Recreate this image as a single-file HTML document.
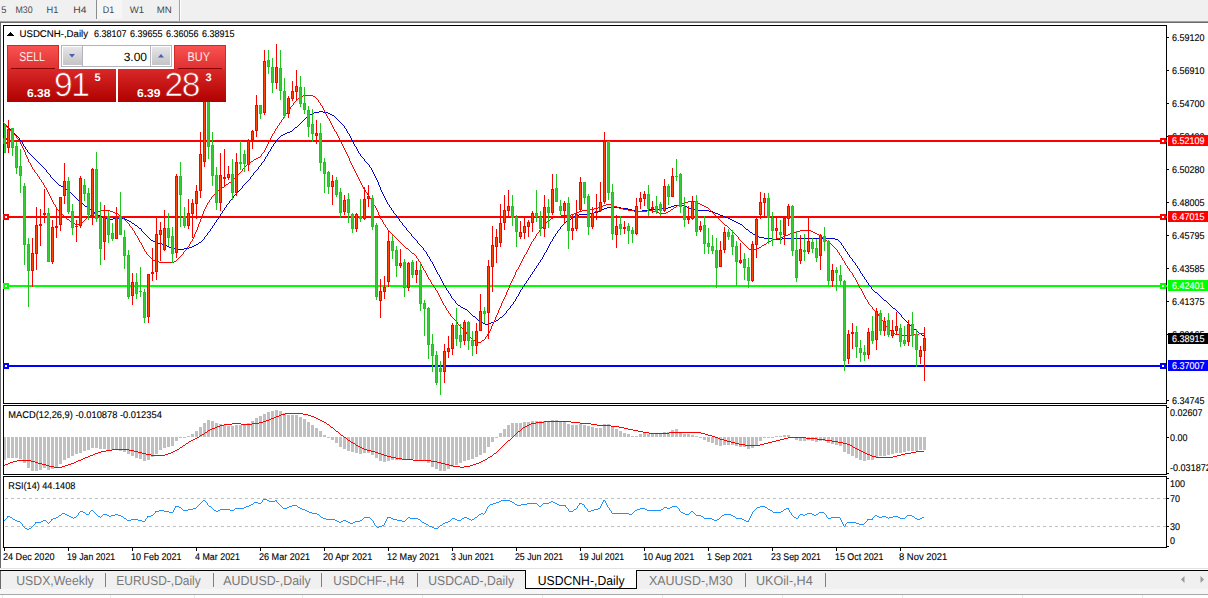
<!DOCTYPE html>
<html><head><meta charset="utf-8"><title>USDCNH-,Daily</title>
<style>html,body{margin:0;padding:0;background:#fff;overflow:hidden}svg text{white-space:pre;text-rendering:geometricPrecision}</style></head>
<body>
<svg width="1208" height="598" viewBox="0 0 1208 598" style="display:block">
<defs>
<linearGradient id="gbtn" x1="0" y1="0" x2="0" y2="1"><stop offset="0" stop-color="#fa5252"/><stop offset="1" stop-color="#de3030"/></linearGradient>
<linearGradient id="gpan" x1="0" y1="0" x2="0" y2="1"><stop offset="0" stop-color="#d82828"/><stop offset="1" stop-color="#b00000"/></linearGradient>
<linearGradient id="gpanu" gradientUnits="userSpaceOnUse" x1="0" y1="69" x2="0" y2="102"><stop offset="0" stop-color="#d82828"/><stop offset="1" stop-color="#b00000"/></linearGradient>
<linearGradient id="gspin" x1="0" y1="0" x2="0" y2="1"><stop offset="0" stop-color="#e6e6e8"/><stop offset="0.5" stop-color="#d4d4d6"/><stop offset="1" stop-color="#c4c4c6"/></linearGradient>
</defs>
<rect width="1208" height="598" fill="#fff"/>
<g shape-rendering="crispEdges">
<rect x="0" y="0" width="1208" height="21" fill="#f0f0f0"/>
<rect x="0" y="21" width="1208" height="1" fill="#a0a0a0"/>
<rect x="0" y="22" width="1208" height="1" fill="#696969"/>
<rect x="0" y="22" width="1" height="546" fill="#696969"/>
<rect x="96" y="0" width="26" height="19" fill="#f6f6f6"/>
<rect x="96" y="0" width="1" height="19" fill="#8c8c8c"/>
<rect x="179" y="0" width="1" height="21" fill="#a0a0a0"/>
<rect x="180" y="0" width="1" height="21" fill="#ffffff"/>
</g>
<text x="1.2" y="13" font-family="Liberation Sans, Arial, sans-serif" font-size="9.6" fill="#484848" textLength="5.2" lengthAdjust="spacingAndGlyphs">5</text>
<text x="15.5" y="13" font-family="Liberation Sans, Arial, sans-serif" font-size="9.6" fill="#484848" textLength="17.2" lengthAdjust="spacingAndGlyphs">M30</text>
<text x="46.5" y="13" font-family="Liberation Sans, Arial, sans-serif" font-size="9.6" fill="#484848" textLength="11.8" lengthAdjust="spacingAndGlyphs">H1</text>
<text x="73.2" y="13" font-family="Liberation Sans, Arial, sans-serif" font-size="9.6" fill="#484848" textLength="13.2" lengthAdjust="spacingAndGlyphs">H4</text>
<text x="102.8" y="13" font-family="Liberation Sans, Arial, sans-serif" font-size="9.6" fill="#484848" textLength="11.4" lengthAdjust="spacingAndGlyphs">D1</text>
<text x="129.8" y="13" font-family="Liberation Sans, Arial, sans-serif" font-size="9.6" fill="#484848" textLength="14.4" lengthAdjust="spacingAndGlyphs">W1</text>
<text x="156.8" y="13" font-family="Liberation Sans, Arial, sans-serif" font-size="9.6" fill="#484848" textLength="15" lengthAdjust="spacingAndGlyphs">MN</text>
<g shape-rendering="crispEdges" fill="#000">
<rect x="3" y="25" width="1164" height="1"/>
<rect x="3" y="25" width="1" height="523"/>
<rect x="1166" y="25" width="1" height="523"/>
<rect x="3" y="403" width="1164" height="1"/>
<rect x="3" y="404" width="1164" height="1" fill="#fff"/>
<rect x="3" y="405" width="1164" height="1"/>
<rect x="3" y="474" width="1164" height="1"/>
<rect x="3" y="475" width="1164" height="1" fill="#fff"/>
<rect x="3" y="476" width="1164" height="1"/>
<rect x="3" y="547" width="1164" height="1"/>
</g>
<rect x="4" y="140" width="1163" height="2" fill="#ff0000" shape-rendering="crispEdges"/>
<rect x="4" y="216" width="1163" height="2" fill="#ff0000" shape-rendering="crispEdges"/>
<rect x="4" y="285" width="1163" height="2" fill="#00ff00" shape-rendering="crispEdges"/>
<rect x="4" y="365" width="1163" height="2" fill="#0000ff" shape-rendering="crispEdges"/>
<g shape-rendering="crispEdges">
<rect x="3" y="138" width="6" height="6" fill="#ff0000"/>
<rect x="5" y="140" width="2" height="2" fill="#fff"/>
<rect x="1160" y="138" width="6" height="6" fill="#ff0000"/>
<rect x="1162" y="140" width="2" height="2" fill="#fff"/>
<rect x="3" y="214" width="6" height="6" fill="#ff0000"/>
<rect x="5" y="216" width="2" height="2" fill="#fff"/>
<rect x="1160" y="214" width="6" height="6" fill="#ff0000"/>
<rect x="1162" y="216" width="2" height="2" fill="#fff"/>
<rect x="3" y="283" width="6" height="6" fill="#00ff00"/>
<rect x="5" y="285" width="2" height="2" fill="#fff"/>
<rect x="1160" y="283" width="6" height="6" fill="#00ff00"/>
<rect x="1162" y="285" width="2" height="2" fill="#fff"/>
<rect x="3" y="363" width="6" height="6" fill="#0000ff"/>
<rect x="5" y="365" width="2" height="2" fill="#fff"/>
<rect x="1160" y="363" width="6" height="6" fill="#0000ff"/>
<rect x="1162" y="365" width="2" height="2" fill="#fff"/>
</g>
<g shape-rendering="crispEdges">
<path d="M3 122h1v1h-1zM4 123h1v1h-1zM5 124h1v1h-1zM6 125h1v1h-1zM7 126h1v1h-1zM8 127h1v1h-1zM9 128h1v1h-1zM10 129h1v1h-1zM11 130h1v1h-1zM12 131h1v1h-1zM13 132h1v1h-1zM14 133h1v1h-1zM15 134h1v1h-1zM16 135h1v1h-1zM17 136h1v1h-1zM18 137h1v1h-1zM19 138h1v2h-1zM20 140h1v1h-1zM21 141h1v1h-1zM22 142h1v2h-1zM23 144h1v2h-1zM24 146h1v1h-1zM25 147h1v2h-1zM26 149h1v1h-1zM27 150h1v2h-1zM28 152h1v1h-1zM29 153h1v1h-1zM30 154h1v1h-1zM31 155h1v1h-1zM32 156h1v1h-1zM33 157h1v1h-1zM34 158h1v1h-1zM35 159h1v1h-1zM36 160h1v1h-1zM37 161h1v1h-1zM38 162h1v1h-1zM39 163h1v1h-1zM40 164h1v1h-1zM41 165h1v1h-1zM42 166h1v1h-1zM43 167h1v1h-1zM44 168h1v1h-1zM45 169h1v1h-1zM46 170h1v2h-1zM47 172h1v1h-1zM48 173h1v1h-1zM49 174h1v1h-1zM50 175h1v2h-1zM51 177h1v1h-1zM52 178h1v1h-1zM53 179h1v1h-1zM54 180h1v1h-1zM55 181h1v1h-1zM56 182h1v1h-1zM57 183h1v1h-1zM58 184h1v1h-1zM59 185h2v1h-2zM61 186h2v1h-2zM63 187h2v1h-2zM65 188h1v1h-1zM66 189h1v1h-1zM67 190h2v1h-2zM69 191h1v1h-1zM70 192h1v1h-1zM71 193h1v1h-1zM72 194h1v1h-1zM73 195h1v1h-1zM74 196h1v1h-1zM75 197h1v1h-1zM76 198h1v1h-1zM77 199h1v1h-1zM78 200h1v1h-1zM79 201h2v1h-2zM81 202h1v1h-1zM82 203h1v1h-1zM83 204h1v1h-1zM84 205h1v1h-1zM85 206h2v1h-2zM87 207h1v1h-1zM88 208h1v1h-1zM89 209h2v1h-2zM91 210h1v1h-1zM92 211h1v1h-1zM93 212h2v1h-2zM95 213h2v1h-2zM97 214h1v1h-1zM98 215h2v1h-2zM100 216h2v1h-2zM102 217h2v1h-2zM104 218h3v1h-3zM107 219h6v1h-6zM113 218h6v1h-6zM119 217h2v1h-2zM121 218h4v1h-4zM125 219h2v1h-2zM127 220h2v1h-2zM129 221h2v1h-2zM131 222h1v1h-1zM132 223h2v1h-2zM134 224h1v1h-1zM135 225h2v1h-2zM137 226h1v1h-1zM138 227h1v1h-1zM139 228h2v1h-2zM141 229h1v2h-1zM142 231h1v1h-1zM143 232h1v1h-1zM144 233h1v1h-1zM145 234h1v1h-1zM146 235h1v1h-1zM147 236h1v1h-1zM148 237h1v1h-1zM149 238h1v1h-1zM150 239h1v1h-1zM151 240h2v1h-2zM153 241h2v1h-2zM155 242h3v1h-3zM158 243h4v1h-4zM162 244h3v1h-3zM165 245h2v1h-2zM167 246h2v1h-2zM169 247h3v1h-3zM172 248h3v1h-3zM175 249h9v1h-9zM184 248h5v1h-5zM189 247h3v1h-3zM192 246h2v1h-2zM194 245h2v1h-2zM196 244h2v1h-2zM198 243h1v1h-1zM199 242h2v1h-2zM201 241h1v1h-1zM202 240h1v1h-1zM203 239h1v1h-1zM204 237h1v2h-1zM205 236h1v1h-1zM206 235h1v1h-1zM207 233h1v2h-1zM208 232h1v1h-1zM209 231h1v1h-1zM210 229h1v2h-1zM211 228h1v1h-1zM212 226h1v2h-1zM213 225h1v1h-1zM214 223h1v2h-1zM215 222h1v1h-1zM216 220h1v2h-1zM217 219h1v1h-1zM218 217h1v2h-1zM219 216h1v1h-1zM220 214h1v2h-1zM221 213h1v1h-1zM222 211h1v2h-1zM223 210h1v1h-1zM224 208h1v2h-1zM225 207h1v1h-1zM226 205h1v2h-1zM227 204h1v1h-1zM228 203h1v1h-1zM229 201h1v2h-1zM230 200h1v1h-1zM231 199h1v1h-1zM232 198h1v1h-1zM233 196h1v2h-1zM234 195h1v1h-1zM235 194h1v1h-1zM236 193h1v1h-1zM237 192h1v1h-1zM238 191h1v1h-1zM239 190h1v1h-1zM240 189h1v1h-1zM241 188h1v1h-1zM242 186h1v2h-1zM243 185h1v1h-1zM244 184h1v1h-1zM245 183h1v1h-1zM246 182h1v1h-1zM247 181h1v1h-1zM248 180h1v1h-1zM249 179h1v1h-1zM250 177h1v2h-1zM251 176h1v1h-1zM252 175h1v1h-1zM253 173h1v2h-1zM254 172h1v1h-1zM255 171h1v1h-1zM256 170h1v1h-1zM257 169h1v1h-1zM258 167h1v2h-1zM259 166h1v1h-1zM260 165h1v1h-1zM261 163h1v2h-1zM262 162h1v1h-1zM263 161h1v1h-1zM264 159h1v2h-1zM265 157h1v2h-1zM266 156h1v1h-1zM267 154h1v2h-1zM268 152h1v2h-1zM269 151h1v1h-1zM270 149h1v2h-1zM271 147h1v2h-1zM272 146h1v1h-1zM273 144h1v2h-1zM274 143h1v1h-1zM275 141h1v2h-1zM276 140h1v1h-1zM277 139h1v1h-1zM278 138h1v1h-1zM279 137h1v1h-1zM280 136h1v1h-1zM281 135h2v1h-2zM283 134h2v1h-2zM285 133h2v1h-2zM287 132h3v1h-3zM290 131h2v1h-2zM292 130h1v1h-1zM293 129h1v1h-1zM294 128h1v1h-1zM295 127h2v1h-2zM297 126h1v1h-1zM298 125h1v1h-1zM299 124h1v1h-1zM300 123h1v1h-1zM301 122h1v1h-1zM302 121h1v1h-1zM303 120h1v1h-1zM304 119h1v1h-1zM305 118h1v1h-1zM306 117h1v1h-1zM307 116h2v1h-2zM309 115h1v1h-1zM310 114h2v1h-2zM312 113h2v1h-2zM314 112h5v1h-5zM319 111h4v1h-4zM323 112h5v1h-5zM328 113h2v1h-2zM330 114h2v1h-2zM332 115h2v1h-2zM334 116h1v1h-1zM335 117h1v1h-1zM336 118h1v1h-1zM337 119h1v1h-1zM338 120h1v1h-1zM339 121h1v1h-1zM340 122h1v1h-1zM341 123h1v1h-1zM342 124h1v1h-1zM343 125h1v1h-1zM344 126h1v2h-1zM345 128h1v1h-1zM346 129h1v2h-1zM347 131h1v2h-1zM348 133h1v1h-1zM349 134h1v2h-1zM350 136h1v2h-1zM351 138h1v2h-1zM352 140h1v2h-1zM353 142h1v2h-1zM354 144h1v2h-1zM355 146h1v1h-1zM356 147h1v2h-1zM357 149h1v2h-1zM358 151h1v2h-1zM359 153h1v1h-1zM360 154h1v2h-1zM361 156h1v1h-1zM362 157h1v1h-1zM363 158h1v1h-1zM364 159h1v2h-1zM365 161h1v1h-1zM366 162h1v1h-1zM367 163h1v1h-1zM368 164h1v1h-1zM369 165h1v2h-1zM370 167h1v1h-1zM371 168h1v2h-1zM372 170h1v2h-1zM373 172h1v2h-1zM374 174h1v2h-1zM375 176h1v2h-1zM376 178h1v2h-1zM377 180h1v2h-1zM378 182h1v3h-1zM379 185h1v2h-1zM380 187h1v3h-1zM381 190h1v2h-1zM382 192h1v2h-1zM383 194h1v2h-1zM384 196h1v2h-1zM385 198h1v2h-1zM386 200h1v2h-1zM387 202h1v2h-1zM388 204h1v1h-1zM389 205h1v2h-1zM390 207h1v1h-1zM391 208h1v2h-1zM392 210h1v1h-1zM393 211h1v2h-1zM394 213h1v1h-1zM395 214h1v1h-1zM396 215h1v2h-1zM397 217h1v1h-1zM398 218h1v1h-1zM399 219h1v2h-1zM400 221h1v1h-1zM401 222h1v1h-1zM402 223h1v2h-1zM403 225h1v1h-1zM404 226h1v1h-1zM405 227h1v1h-1zM406 228h1v2h-1zM407 230h1v1h-1zM408 231h1v1h-1zM409 232h1v1h-1zM410 233h1v1h-1zM411 234h1v2h-1zM412 236h1v1h-1zM413 237h1v1h-1zM414 238h1v1h-1zM415 239h1v1h-1zM416 240h1v1h-1zM417 241h1v2h-1zM418 243h1v1h-1zM419 244h1v1h-1zM420 245h1v1h-1zM421 246h1v1h-1zM422 247h1v1h-1zM423 248h1v2h-1zM424 250h1v1h-1zM425 251h1v1h-1zM426 252h1v2h-1zM427 254h1v2h-1zM428 256h1v1h-1zM429 257h1v2h-1zM430 259h1v2h-1zM431 261h1v1h-1zM432 262h1v2h-1zM433 264h1v2h-1zM434 266h1v2h-1zM435 268h1v2h-1zM436 270h1v2h-1zM437 272h1v2h-1zM438 274h1v1h-1zM439 275h1v2h-1zM440 277h1v2h-1zM441 279h1v2h-1zM442 281h1v2h-1zM443 283h1v2h-1zM444 285h1v1h-1zM445 286h1v2h-1zM446 288h1v2h-1zM447 290h1v1h-1zM448 291h1v2h-1zM449 293h1v1h-1zM450 294h1v2h-1zM451 296h1v2h-1zM452 298h1v1h-1zM453 299h1v1h-1zM454 300h1v1h-1zM455 301h1v2h-1zM456 303h1v1h-1zM457 304h1v1h-1zM458 305h2v1h-2zM460 306h1v1h-1zM461 307h2v1h-2zM463 308h2v1h-2zM465 309h2v1h-2zM467 310h1v1h-1zM468 311h1v1h-1zM469 312h1v1h-1zM470 313h1v1h-1zM471 314h1v1h-1zM472 315h1v1h-1zM473 316h2v1h-2zM475 317h1v1h-1zM476 318h1v1h-1zM477 319h1v1h-1zM478 320h1v1h-1zM479 321h2v1h-2zM481 322h2v1h-2zM483 323h2v1h-2zM485 324h4v1h-4zM489 323h2v1h-2zM491 322h3v1h-3zM494 321h2v1h-2zM496 320h2v1h-2zM498 319h1v1h-1zM499 318h1v1h-1zM500 317h2v1h-2zM502 316h1v1h-1zM503 315h1v1h-1zM504 314h1v1h-1zM505 313h1v1h-1zM506 311h1v2h-1zM507 310h1v1h-1zM508 309h1v1h-1zM509 308h1v1h-1zM510 306h1v2h-1zM511 305h1v1h-1zM512 304h1v1h-1zM513 302h1v2h-1zM514 301h1v1h-1zM515 299h1v2h-1zM516 297h1v2h-1zM517 296h1v1h-1zM518 294h1v2h-1zM519 292h1v2h-1zM520 290h1v2h-1zM521 289h1v1h-1zM522 287h1v2h-1zM523 286h1v1h-1zM524 284h1v2h-1zM525 283h1v1h-1zM526 281h1v2h-1zM527 280h1v1h-1zM528 278h1v2h-1zM529 277h1v1h-1zM530 275h1v2h-1zM531 274h1v1h-1zM532 272h1v2h-1zM533 271h1v1h-1zM534 269h1v2h-1zM535 268h1v1h-1zM536 266h1v2h-1zM537 265h1v1h-1zM538 263h1v2h-1zM539 262h1v1h-1zM540 260h1v2h-1zM541 259h1v1h-1zM542 257h1v2h-1zM543 255h1v2h-1zM544 253h1v2h-1zM545 252h1v1h-1zM546 250h1v2h-1zM547 248h1v2h-1zM548 246h1v2h-1zM549 244h1v2h-1zM550 242h1v2h-1zM551 241h1v1h-1zM552 239h1v2h-1zM553 237h1v2h-1zM554 236h1v1h-1zM555 234h1v2h-1zM556 233h1v1h-1zM557 231h1v2h-1zM558 230h1v1h-1zM559 229h1v1h-1zM560 227h1v2h-1zM561 226h1v1h-1zM562 225h1v1h-1zM563 224h1v1h-1zM564 223h1v1h-1zM565 222h1v1h-1zM566 221h2v1h-2zM568 220h1v1h-1zM569 219h2v1h-2zM571 218h1v1h-1zM572 217h2v1h-2zM574 216h2v1h-2zM576 215h3v1h-3zM579 214h8v1h-8zM587 213h7v1h-7zM594 212h4v1h-4zM598 211h2v1h-2zM600 210h2v1h-2zM602 209h2v1h-2zM604 208h3v1h-3zM607 207h14v1h-14zM621 208h7v1h-7zM628 209h4v1h-4zM632 210h4v1h-4zM636 211h6v1h-6zM642 210h7v1h-7zM649 209h10v1h-10zM659 208h9v1h-9zM668 207h3v1h-3zM671 206h3v1h-3zM674 205h10v1h-10zM684 206h3v1h-3zM687 207h2v1h-2zM689 208h3v1h-3zM692 209h4v1h-4zM696 210h13v1h-13zM709 211h4v1h-4zM713 212h2v1h-2zM715 213h3v1h-3zM718 214h2v1h-2zM720 215h3v1h-3zM723 216h2v1h-2zM725 217h3v1h-3zM728 218h2v1h-2zM730 219h2v1h-2zM732 220h2v1h-2zM734 221h2v1h-2zM736 222h2v1h-2zM738 223h2v1h-2zM740 224h2v1h-2zM742 225h1v1h-1zM743 226h1v1h-1zM744 227h1v1h-1zM745 228h1v1h-1zM746 229h2v1h-2zM748 230h1v1h-1zM749 231h1v1h-1zM750 232h2v1h-2zM752 233h1v1h-1zM753 234h2v1h-2zM755 235h2v1h-2zM757 236h2v1h-2zM759 237h5v1h-5zM764 238h8v1h-8zM772 239h10v1h-10zM782 238h53v1h-53zM835 239h3v1h-3zM838 240h1v1h-1zM839 241h1v1h-1zM840 242h1v1h-1zM841 243h1v2h-1zM842 245h1v1h-1zM843 246h1v2h-1zM844 248h1v1h-1zM845 249h1v2h-1zM846 251h1v1h-1zM847 252h1v2h-1zM848 254h1v1h-1zM849 255h1v2h-1zM850 257h1v1h-1zM851 258h1v1h-1zM852 259h1v2h-1zM853 261h1v1h-1zM854 262h1v1h-1zM855 263h1v2h-1zM856 265h1v1h-1zM857 266h1v2h-1zM858 268h1v1h-1zM859 269h1v2h-1zM860 271h1v2h-1zM861 273h1v1h-1zM862 274h1v2h-1zM863 276h1v1h-1zM864 277h1v2h-1zM865 279h1v1h-1zM866 280h1v2h-1zM867 282h1v1h-1zM868 283h1v2h-1zM869 285h1v1h-1zM870 286h1v1h-1zM871 287h1v2h-1zM872 289h1v1h-1zM873 290h1v1h-1zM874 291h1v1h-1zM875 292h2v1h-2zM877 293h1v1h-1zM878 294h1v1h-1zM879 295h1v1h-1zM880 296h1v1h-1zM881 297h1v1h-1zM882 298h1v1h-1zM883 299h1v1h-1zM884 300h2v1h-2zM886 301h1v1h-1zM887 302h1v1h-1zM888 303h1v1h-1zM889 304h1v1h-1zM890 305h1v1h-1zM891 306h1v1h-1zM892 307h1v1h-1zM893 308h2v1h-2zM895 309h1v1h-1zM896 310h1v1h-1zM897 311h1v1h-1zM898 312h1v1h-1zM899 313h1v1h-1zM900 314h1v1h-1zM901 315h1v2h-1zM902 317h1v1h-1zM903 318h1v1h-1zM904 319h1v1h-1zM905 320h1v1h-1zM906 321h1v1h-1zM907 322h1v1h-1zM908 323h1v1h-1zM909 324h1v1h-1zM910 325h1v1h-1zM911 326h1v1h-1zM912 327h1v1h-1zM913 328h1v1h-1zM914 329h2v1h-2zM916 330h1v1h-1zM917 331h1v1h-1zM918 332h1v1h-1zM919 333h2v1h-2zM921 334h1v1h-1zM922 335h2v1h-2zM924 336h1v1h-1z" fill="#0000d0" shape-rendering="crispEdges"/>
<path d="M3 122h1v1h-1zM4 123h1v1h-1zM5 124h1v1h-1zM6 125h1v2h-1zM7 127h1v1h-1zM8 128h1v1h-1zM9 129h1v1h-1zM10 130h1v1h-1zM11 131h1v1h-1zM12 132h1v1h-1zM13 133h1v1h-1zM14 134h1v1h-1zM15 135h1v1h-1zM16 136h1v2h-1zM17 138h1v1h-1zM18 139h1v2h-1zM19 141h1v1h-1zM20 142h1v2h-1zM21 144h1v2h-1zM22 146h1v2h-1zM23 148h1v2h-1zM24 150h1v2h-1zM25 152h1v3h-1zM26 155h1v2h-1zM27 157h1v2h-1zM28 159h1v3h-1zM29 162h1v1h-1zM30 163h1v2h-1zM31 165h1v2h-1zM32 167h1v2h-1zM33 169h1v1h-1zM34 170h1v2h-1zM35 172h1v1h-1zM36 173h1v1h-1zM37 174h1v2h-1zM38 176h1v1h-1zM39 177h1v2h-1zM40 179h1v1h-1zM41 180h1v2h-1zM42 182h1v1h-1zM43 183h1v2h-1zM44 185h1v2h-1zM45 187h1v1h-1zM46 188h1v2h-1zM47 190h1v2h-1zM48 192h1v2h-1zM49 194h1v2h-1zM50 196h1v2h-1zM51 198h1v2h-1zM52 200h1v2h-1zM53 202h1v2h-1zM54 204h1v1h-1zM55 205h1v2h-1zM56 207h1v2h-1zM57 209h1v1h-1zM58 210h1v1h-1zM59 211h1v1h-1zM60 212h1v1h-1zM61 213h1v1h-1zM62 214h1v1h-1zM63 215h1v1h-1zM64 216h1v1h-1zM65 217h1v1h-1zM66 218h1v1h-1zM67 219h2v1h-2zM69 220h1v1h-1zM70 221h1v1h-1zM71 222h1v1h-1zM72 223h3v1h-3zM75 224h5v1h-5zM80 223h1v1h-1zM81 222h2v1h-2zM83 221h1v1h-1zM84 220h1v1h-1zM85 219h1v1h-1zM86 218h1v1h-1zM87 217h2v1h-2zM89 216h1v1h-1zM90 215h2v1h-2zM92 214h2v1h-2zM94 213h2v1h-2zM96 212h2v1h-2zM98 211h3v1h-3zM101 210h9v1h-9zM110 211h3v1h-3zM113 212h2v1h-2zM115 213h3v1h-3zM118 214h1v1h-1zM119 215h2v1h-2zM121 216h1v1h-1zM122 217h1v1h-1zM123 218h1v1h-1zM124 219h1v1h-1zM125 220h1v1h-1zM126 221h1v1h-1zM127 222h1v1h-1zM128 223h1v1h-1zM129 224h1v2h-1zM130 226h1v1h-1zM131 227h1v1h-1zM132 228h1v2h-1zM133 230h1v1h-1zM134 231h1v2h-1zM135 233h1v2h-1zM136 235h1v1h-1zM137 236h1v2h-1zM138 238h1v2h-1zM139 240h1v2h-1zM140 242h1v1h-1zM141 243h1v2h-1zM142 245h1v2h-1zM143 247h1v2h-1zM144 249h1v2h-1zM145 251h1v1h-1zM146 252h1v2h-1zM147 254h1v1h-1zM148 255h1v1h-1zM149 256h1v1h-1zM150 257h1v1h-1zM151 258h1v1h-1zM152 259h1v1h-1zM153 260h2v1h-2zM155 261h4v1h-4zM159 262h15v1h-15zM174 261h2v1h-2zM176 260h1v1h-1zM177 259h1v1h-1zM178 258h1v1h-1zM179 257h1v1h-1zM180 256h1v1h-1zM181 255h1v1h-1zM182 254h1v1h-1zM183 252h1v2h-1zM184 251h1v1h-1zM185 250h1v1h-1zM186 249h1v1h-1zM187 247h1v2h-1zM188 246h1v1h-1zM189 244h1v2h-1zM190 242h1v2h-1zM191 241h1v1h-1zM192 239h1v2h-1zM193 237h1v2h-1zM194 234h1v3h-1zM195 232h1v2h-1zM196 230h1v2h-1zM197 227h1v3h-1zM198 224h1v3h-1zM199 222h1v2h-1zM200 219h1v3h-1zM201 217h1v2h-1zM202 214h1v3h-1zM203 211h1v3h-1zM204 209h1v2h-1zM205 207h1v2h-1zM206 205h1v2h-1zM207 203h1v2h-1zM208 202h1v1h-1zM209 200h1v2h-1zM210 199h1v1h-1zM211 197h1v2h-1zM212 196h1v1h-1zM213 195h1v1h-1zM214 194h1v1h-1zM215 193h1v1h-1zM216 192h1v1h-1zM217 191h1v1h-1zM218 190h2v1h-2zM220 189h1v1h-1zM221 188h1v1h-1zM222 187h2v1h-2zM224 186h1v1h-1zM225 185h1v1h-1zM226 184h2v1h-2zM228 183h1v1h-1zM229 182h2v1h-2zM231 181h1v1h-1zM232 180h1v1h-1zM233 179h1v1h-1zM234 178h2v1h-2zM236 177h1v1h-1zM237 175h1v2h-1zM238 174h1v1h-1zM239 173h1v1h-1zM240 172h1v1h-1zM241 171h1v1h-1zM242 169h1v2h-1zM243 168h1v1h-1zM244 167h1v1h-1zM245 166h1v1h-1zM246 165h1v1h-1zM247 164h1v1h-1zM248 163h2v1h-2zM250 162h1v1h-1zM251 161h2v1h-2zM253 160h1v1h-1zM254 159h2v1h-2zM256 158h2v1h-2zM258 157h2v1h-2zM260 156h1v1h-1zM261 154h1v2h-1zM262 153h1v1h-1zM263 152h1v1h-1zM264 150h1v2h-1zM265 148h1v2h-1zM266 146h1v2h-1zM267 144h1v2h-1zM268 142h1v2h-1zM269 140h1v2h-1zM270 138h1v2h-1zM271 136h1v2h-1zM272 134h1v2h-1zM273 133h1v1h-1zM274 131h1v2h-1zM275 129h1v2h-1zM276 128h1v1h-1zM277 126h1v2h-1zM278 125h1v1h-1zM279 123h1v2h-1zM280 122h1v1h-1zM281 120h1v2h-1zM282 119h1v1h-1zM283 117h1v2h-1zM284 116h1v1h-1zM285 114h1v2h-1zM286 113h1v1h-1zM287 111h1v2h-1zM288 110h1v1h-1zM289 109h1v1h-1zM290 107h1v2h-1zM291 106h1v1h-1zM292 105h1v1h-1zM293 103h1v2h-1zM294 102h1v1h-1zM295 101h1v1h-1zM296 100h1v1h-1zM297 99h1v1h-1zM298 98h2v1h-2zM300 97h1v1h-1zM301 96h2v1h-2zM303 95h10v1h-10zM313 96h2v1h-2zM315 97h1v1h-1zM316 98h1v1h-1zM317 99h1v1h-1zM318 100h1v2h-1zM319 102h1v1h-1zM320 103h1v2h-1zM321 105h1v1h-1zM322 106h1v2h-1zM323 108h1v2h-1zM324 110h1v2h-1zM325 112h1v2h-1zM326 114h1v2h-1zM327 116h1v2h-1zM328 118h1v1h-1zM329 119h1v2h-1zM330 121h1v2h-1zM331 123h1v2h-1zM332 125h1v2h-1zM333 127h1v2h-1zM334 129h1v2h-1zM335 131h1v1h-1zM336 132h1v2h-1zM337 134h1v2h-1zM338 136h1v2h-1zM339 138h1v2h-1zM340 140h1v2h-1zM341 142h1v2h-1zM342 144h1v2h-1zM343 146h1v2h-1zM344 148h1v2h-1zM345 150h1v2h-1zM346 152h1v2h-1zM347 154h1v2h-1zM348 156h1v2h-1zM349 158h1v3h-1zM350 161h1v2h-1zM351 163h1v2h-1zM352 165h1v2h-1zM353 167h1v2h-1zM354 169h1v2h-1zM355 171h1v2h-1zM356 173h1v2h-1zM357 175h1v2h-1zM358 177h1v2h-1zM359 179h1v2h-1zM360 181h1v2h-1zM361 183h1v2h-1zM362 185h1v2h-1zM363 187h1v2h-1zM364 189h1v1h-1zM365 190h1v2h-1zM366 192h1v1h-1zM367 193h1v2h-1zM368 195h1v1h-1zM369 196h1v2h-1zM370 198h1v1h-1zM371 199h1v2h-1zM372 201h1v2h-1zM373 203h1v2h-1zM374 205h1v1h-1zM375 206h1v2h-1zM376 208h1v2h-1zM377 210h1v2h-1zM378 212h1v3h-1zM379 215h1v2h-1zM380 217h1v2h-1zM381 219h1v1h-1zM382 220h1v2h-1zM383 222h1v2h-1zM384 224h1v1h-1zM385 225h1v2h-1zM386 227h1v1h-1zM387 228h1v2h-1zM388 230h1v1h-1zM389 231h1v1h-1zM390 232h1v1h-1zM391 233h1v1h-1zM392 234h1v1h-1zM393 235h1v1h-1zM394 236h1v1h-1zM395 237h1v1h-1zM396 238h1v1h-1zM397 239h1v1h-1zM398 240h1v1h-1zM399 241h1v1h-1zM400 242h1v1h-1zM401 243h1v1h-1zM402 244h1v1h-1zM403 245h1v1h-1zM404 246h1v1h-1zM405 247h1v1h-1zM406 248h2v1h-2zM408 249h1v1h-1zM409 250h1v1h-1zM410 251h1v1h-1zM411 252h1v1h-1zM412 253h2v1h-2zM414 254h1v1h-1zM415 255h1v1h-1zM416 256h1v2h-1zM417 258h1v1h-1zM418 259h1v2h-1zM419 261h1v1h-1zM420 262h1v2h-1zM421 264h1v2h-1zM422 266h1v2h-1zM423 268h1v2h-1zM424 270h1v1h-1zM425 271h1v2h-1zM426 273h1v2h-1zM427 275h1v2h-1zM428 277h1v2h-1zM429 279h1v1h-1zM430 280h1v2h-1zM431 282h1v2h-1zM432 284h1v1h-1zM433 285h1v2h-1zM434 287h1v1h-1zM435 288h1v2h-1zM436 290h1v1h-1zM437 291h1v2h-1zM438 293h1v2h-1zM439 295h1v2h-1zM440 297h1v2h-1zM441 299h1v2h-1zM442 301h1v2h-1zM443 303h1v2h-1zM444 305h1v1h-1zM445 306h1v2h-1zM446 308h1v2h-1zM447 310h1v1h-1zM448 311h1v2h-1zM449 313h1v1h-1zM450 314h1v2h-1zM451 316h1v1h-1zM452 317h1v1h-1zM453 318h1v1h-1zM454 319h1v1h-1zM455 320h1v1h-1zM456 321h1v1h-1zM457 322h1v2h-1zM458 324h1v1h-1zM459 325h1v1h-1zM460 326h1v1h-1zM461 327h1v1h-1zM462 328h1v1h-1zM463 329h1v1h-1zM464 330h1v1h-1zM465 331h1v1h-1zM466 332h1v2h-1zM467 334h1v1h-1zM468 335h1v1h-1zM469 336h1v1h-1zM470 337h1v1h-1zM471 338h1v1h-1zM472 339h1v1h-1zM473 340h2v1h-2zM475 341h2v1h-2zM477 342h4v1h-4zM481 341h1v1h-1zM482 340h2v1h-2zM484 339h1v1h-1zM485 337h1v2h-1zM486 336h1v1h-1zM487 334h1v2h-1zM488 333h1v1h-1zM489 331h1v2h-1zM490 329h1v2h-1zM491 326h1v3h-1zM492 324h1v2h-1zM493 322h1v2h-1zM494 320h1v2h-1zM495 317h1v3h-1zM496 315h1v2h-1zM497 313h1v2h-1zM498 310h1v3h-1zM499 308h1v2h-1zM500 306h1v2h-1zM501 303h1v3h-1zM502 301h1v2h-1zM503 299h1v2h-1zM504 297h1v2h-1zM505 295h1v2h-1zM506 292h1v3h-1zM507 290h1v2h-1zM508 288h1v2h-1zM509 285h1v3h-1zM510 283h1v2h-1zM511 281h1v2h-1zM512 279h1v2h-1zM513 277h1v2h-1zM514 275h1v2h-1zM515 272h1v3h-1zM516 270h1v2h-1zM517 269h1v1h-1zM518 267h1v2h-1zM519 265h1v2h-1zM520 263h1v2h-1zM521 261h1v2h-1zM522 259h1v2h-1zM523 257h1v2h-1zM524 255h1v2h-1zM525 254h1v1h-1zM526 252h1v2h-1zM527 250h1v2h-1zM528 248h1v2h-1zM529 246h1v2h-1zM530 244h1v2h-1zM531 242h1v2h-1zM532 241h1v1h-1zM533 239h1v2h-1zM534 238h1v1h-1zM535 236h1v2h-1zM536 234h1v2h-1zM537 233h1v1h-1zM538 232h1v1h-1zM539 230h1v2h-1zM540 229h1v1h-1zM541 228h1v1h-1zM542 227h1v1h-1zM543 225h1v2h-1zM544 224h1v1h-1zM545 223h1v1h-1zM546 222h1v1h-1zM547 221h1v1h-1zM548 220h2v1h-2zM550 219h1v1h-1zM551 218h2v1h-2zM553 217h2v1h-2zM555 216h6v1h-6zM561 215h10v1h-10zM571 214h3v1h-3zM574 213h2v1h-2zM576 212h3v1h-3zM579 211h3v1h-3zM582 210h7v1h-7zM589 209h5v1h-5zM594 208h4v1h-4zM598 207h3v1h-3zM601 206h2v1h-2zM603 205h3v1h-3zM606 204h5v1h-5zM611 205h3v1h-3zM614 206h3v1h-3zM617 207h2v1h-2zM619 208h4v1h-4zM623 209h5v1h-5zM628 210h6v1h-6zM634 211h13v1h-13zM647 210h6v1h-6zM653 211h3v1h-3zM656 212h3v1h-3zM659 213h7v1h-7zM666 212h2v1h-2zM668 211h2v1h-2zM670 210h1v1h-1zM671 209h2v1h-2zM673 208h1v1h-1zM674 207h2v1h-2zM676 206h1v1h-1zM677 205h2v1h-2zM679 204h2v1h-2zM681 203h3v1h-3zM684 202h4v1h-4zM688 201h7v1h-7zM695 202h3v1h-3zM698 203h2v1h-2zM700 204h2v1h-2zM702 205h2v1h-2zM704 206h2v1h-2zM706 207h2v1h-2zM708 208h1v1h-1zM709 209h1v1h-1zM710 210h1v1h-1zM711 211h1v1h-1zM712 212h1v1h-1zM713 213h1v1h-1zM714 214h1v1h-1zM715 215h1v1h-1zM716 216h1v1h-1zM717 217h1v1h-1zM718 218h1v1h-1zM719 219h1v1h-1zM720 220h1v1h-1zM721 221h1v1h-1zM722 222h1v1h-1zM723 223h1v1h-1zM724 224h1v1h-1zM725 225h2v1h-2zM727 226h1v1h-1zM728 227h1v1h-1zM729 228h1v1h-1zM730 229h1v1h-1zM731 230h1v1h-1zM732 231h1v1h-1zM733 232h1v1h-1zM734 233h1v1h-1zM735 234h1v1h-1zM736 235h1v1h-1zM737 236h1v1h-1zM738 237h1v2h-1zM739 239h1v1h-1zM740 240h1v1h-1zM741 241h1v1h-1zM742 242h1v1h-1zM743 243h1v1h-1zM744 244h1v1h-1zM745 245h1v1h-1zM746 246h1v1h-1zM747 247h1v1h-1zM748 248h1v1h-1zM749 249h8v1h-8zM757 248h2v1h-2zM759 247h2v1h-2zM761 246h1v1h-1zM762 245h2v1h-2zM764 244h2v1h-2zM766 243h1v1h-1zM767 242h2v1h-2zM769 241h2v1h-2zM771 240h2v1h-2zM773 239h3v1h-3zM776 238h4v1h-4zM780 237h3v1h-3zM783 236h2v1h-2zM785 235h3v1h-3zM788 234h2v1h-2zM790 233h3v1h-3zM793 232h3v1h-3zM796 231h4v1h-4zM800 230h11v1h-11zM811 231h2v1h-2zM813 232h2v1h-2zM815 233h2v1h-2zM817 234h2v1h-2zM819 235h1v1h-1zM820 236h2v1h-2zM822 237h1v1h-1zM823 238h2v1h-2zM825 239h1v1h-1zM826 240h1v1h-1zM827 241h1v1h-1zM828 242h2v1h-2zM830 243h1v1h-1zM831 244h1v1h-1zM832 245h1v1h-1zM833 246h1v1h-1zM834 247h1v1h-1zM835 248h1v1h-1zM836 249h1v1h-1zM837 250h1v2h-1zM838 252h1v1h-1zM839 253h1v2h-1zM840 255h1v1h-1zM841 256h1v2h-1zM842 258h1v2h-1zM843 260h1v1h-1zM844 261h1v2h-1zM845 263h1v2h-1zM846 265h1v1h-1zM847 266h1v2h-1zM848 268h1v1h-1zM849 269h1v2h-1zM850 271h1v1h-1zM851 272h1v1h-1zM852 273h1v2h-1zM853 275h1v2h-1zM854 277h1v1h-1zM855 278h1v2h-1zM856 280h1v2h-1zM857 282h1v2h-1zM858 284h1v2h-1zM859 286h1v2h-1zM860 288h1v1h-1zM861 289h1v2h-1zM862 291h1v2h-1zM863 293h1v2h-1zM864 295h1v2h-1zM865 297h1v2h-1zM866 299h1v1h-1zM867 300h1v2h-1zM868 302h1v2h-1zM869 304h1v1h-1zM870 305h1v1h-1zM871 306h1v1h-1zM872 307h1v2h-1zM873 309h1v1h-1zM874 310h1v1h-1zM875 311h1v1h-1zM876 312h1v1h-1zM877 313h1v1h-1zM878 314h1v2h-1zM879 316h1v1h-1zM880 317h1v1h-1zM881 318h1v2h-1zM882 320h1v1h-1zM883 321h1v2h-1zM884 323h1v1h-1zM885 324h1v2h-1zM886 326h1v1h-1zM887 327h1v1h-1zM888 328h1v1h-1zM889 329h1v1h-1zM890 330h1v1h-1zM891 331h1v1h-1zM892 332h1v1h-1zM893 333h2v1h-2zM895 334h4v1h-4zM899 335h12v1h-12zM911 334h8v1h-8zM919 333h6v1h-6z" fill="#ff0000" shape-rendering="crispEdges"/>
</g>
<g shape-rendering="crispEdges">
<rect x="4" y="123" width="1" height="30" fill="#1ec61e"/>
<rect x="4" y="125" width="2" height="28" fill="#1ec61e"/>
<rect x="4" y="126" width="1" height="26" fill="#32cd32"/>
<rect x="8" y="120" width="1" height="33" fill="#ff0000"/>
<rect x="7" y="129" width="3" height="19" fill="#ff0000"/>
<rect x="8" y="130" width="1" height="17" fill="#ff4500"/>
<rect x="12" y="128" width="1" height="28" fill="#1ec61e"/>
<rect x="11" y="128" width="3" height="20" fill="#1ec61e"/>
<rect x="12" y="129" width="1" height="18" fill="#32cd32"/>
<rect x="16" y="142" width="1" height="32" fill="#1ec61e"/>
<rect x="15" y="146" width="3" height="22" fill="#1ec61e"/>
<rect x="16" y="147" width="1" height="20" fill="#32cd32"/>
<rect x="20" y="149" width="1" height="44" fill="#1ec61e"/>
<rect x="19" y="166" width="3" height="10" fill="#1ec61e"/>
<rect x="20" y="167" width="1" height="8" fill="#32cd32"/>
<rect x="24" y="183" width="1" height="82" fill="#1ec61e"/>
<rect x="23" y="186" width="3" height="59" fill="#1ec61e"/>
<rect x="24" y="187" width="1" height="57" fill="#32cd32"/>
<rect x="28" y="238" width="1" height="69" fill="#1ec61e"/>
<rect x="27" y="244" width="3" height="27" fill="#1ec61e"/>
<rect x="28" y="245" width="1" height="25" fill="#32cd32"/>
<rect x="32" y="238" width="1" height="49" fill="#ff0000"/>
<rect x="31" y="253" width="3" height="18" fill="#ff0000"/>
<rect x="32" y="254" width="1" height="16" fill="#ff4500"/>
<rect x="36" y="207" width="1" height="63" fill="#ff0000"/>
<rect x="35" y="225" width="3" height="29" fill="#ff0000"/>
<rect x="36" y="226" width="1" height="27" fill="#ff4500"/>
<rect x="40" y="209" width="1" height="37" fill="#ff0000"/>
<rect x="39" y="224" width="3" height="2" fill="#ff0000"/>
<rect x="44" y="189" width="1" height="34" fill="#ff0000"/>
<rect x="43" y="213" width="3" height="2" fill="#ff0000"/>
<rect x="48" y="208" width="1" height="54" fill="#1ec61e"/>
<rect x="47" y="213" width="3" height="49" fill="#1ec61e"/>
<rect x="48" y="214" width="1" height="47" fill="#32cd32"/>
<rect x="52" y="220" width="1" height="44" fill="#ff0000"/>
<rect x="51" y="227" width="3" height="35" fill="#ff0000"/>
<rect x="52" y="228" width="1" height="33" fill="#ff4500"/>
<rect x="56" y="209" width="1" height="29" fill="#ff0000"/>
<rect x="55" y="226" width="3" height="2" fill="#ff0000"/>
<rect x="60" y="197" width="1" height="34" fill="#ff0000"/>
<rect x="59" y="197" width="3" height="28" fill="#ff0000"/>
<rect x="60" y="198" width="1" height="26" fill="#ff4500"/>
<rect x="64" y="163" width="1" height="41" fill="#ff0000"/>
<rect x="63" y="181" width="3" height="15" fill="#ff0000"/>
<rect x="64" y="182" width="1" height="13" fill="#ff4500"/>
<rect x="68" y="177" width="1" height="37" fill="#1ec61e"/>
<rect x="67" y="181" width="3" height="31" fill="#1ec61e"/>
<rect x="68" y="182" width="1" height="29" fill="#32cd32"/>
<rect x="72" y="204" width="1" height="31" fill="#1ec61e"/>
<rect x="71" y="211" width="3" height="17" fill="#1ec61e"/>
<rect x="72" y="212" width="1" height="15" fill="#32cd32"/>
<rect x="76" y="220" width="1" height="22" fill="#ff0000"/>
<rect x="75" y="226" width="3" height="1" fill="#ff0000"/>
<rect x="80" y="176" width="1" height="52" fill="#ff0000"/>
<rect x="79" y="178" width="3" height="48" fill="#ff0000"/>
<rect x="80" y="179" width="1" height="46" fill="#ff4500"/>
<rect x="84" y="179" width="1" height="22" fill="#1ec61e"/>
<rect x="83" y="185" width="3" height="9" fill="#1ec61e"/>
<rect x="84" y="186" width="1" height="7" fill="#32cd32"/>
<rect x="88" y="188" width="1" height="32" fill="#1ec61e"/>
<rect x="87" y="193" width="3" height="22" fill="#1ec61e"/>
<rect x="88" y="194" width="1" height="20" fill="#32cd32"/>
<rect x="92" y="168" width="1" height="57" fill="#ff0000"/>
<rect x="91" y="169" width="3" height="47" fill="#ff0000"/>
<rect x="92" y="170" width="1" height="45" fill="#ff4500"/>
<rect x="96" y="152" width="1" height="70" fill="#1ec61e"/>
<rect x="95" y="169" width="3" height="50" fill="#1ec61e"/>
<rect x="96" y="170" width="1" height="48" fill="#32cd32"/>
<rect x="100" y="202" width="1" height="63" fill="#1ec61e"/>
<rect x="99" y="217" width="3" height="32" fill="#1ec61e"/>
<rect x="100" y="218" width="1" height="30" fill="#32cd32"/>
<rect x="104" y="205" width="1" height="55" fill="#ff0000"/>
<rect x="103" y="217" width="3" height="25" fill="#ff0000"/>
<rect x="104" y="218" width="1" height="23" fill="#ff4500"/>
<rect x="108" y="211" width="1" height="32" fill="#1ec61e"/>
<rect x="107" y="216" width="3" height="19" fill="#1ec61e"/>
<rect x="108" y="217" width="1" height="17" fill="#32cd32"/>
<rect x="112" y="223" width="1" height="18" fill="#1ec61e"/>
<rect x="111" y="233" width="3" height="6" fill="#1ec61e"/>
<rect x="112" y="234" width="1" height="4" fill="#32cd32"/>
<rect x="116" y="207" width="1" height="32" fill="#ff0000"/>
<rect x="115" y="217" width="3" height="22" fill="#ff0000"/>
<rect x="116" y="218" width="1" height="20" fill="#ff4500"/>
<rect x="120" y="192" width="1" height="43" fill="#1ec61e"/>
<rect x="119" y="216" width="3" height="19" fill="#1ec61e"/>
<rect x="120" y="217" width="1" height="17" fill="#32cd32"/>
<rect x="124" y="230" width="1" height="39" fill="#1ec61e"/>
<rect x="123" y="237" width="3" height="19" fill="#1ec61e"/>
<rect x="124" y="238" width="1" height="17" fill="#32cd32"/>
<rect x="128" y="250" width="1" height="49" fill="#1ec61e"/>
<rect x="127" y="255" width="3" height="42" fill="#1ec61e"/>
<rect x="128" y="256" width="1" height="40" fill="#32cd32"/>
<rect x="132" y="273" width="1" height="32" fill="#ff0000"/>
<rect x="131" y="282" width="3" height="14" fill="#ff0000"/>
<rect x="132" y="283" width="1" height="12" fill="#ff4500"/>
<rect x="136" y="273" width="1" height="26" fill="#1ec61e"/>
<rect x="135" y="282" width="3" height="12" fill="#1ec61e"/>
<rect x="136" y="283" width="1" height="10" fill="#32cd32"/>
<rect x="140" y="267" width="1" height="30" fill="#1ec61e"/>
<rect x="139" y="291" width="3" height="1" fill="#1ec61e"/>
<rect x="144" y="289" width="1" height="34" fill="#1ec61e"/>
<rect x="143" y="292" width="3" height="26" fill="#1ec61e"/>
<rect x="144" y="293" width="1" height="24" fill="#32cd32"/>
<rect x="148" y="274" width="1" height="49" fill="#ff0000"/>
<rect x="147" y="274" width="3" height="43" fill="#ff0000"/>
<rect x="148" y="275" width="1" height="41" fill="#ff4500"/>
<rect x="152" y="248" width="1" height="33" fill="#ff0000"/>
<rect x="151" y="272" width="3" height="2" fill="#ff0000"/>
<rect x="156" y="217" width="1" height="63" fill="#ff0000"/>
<rect x="155" y="234" width="3" height="38" fill="#ff0000"/>
<rect x="156" y="235" width="1" height="36" fill="#ff4500"/>
<rect x="160" y="222" width="1" height="39" fill="#ff0000"/>
<rect x="159" y="230" width="3" height="5" fill="#ff0000"/>
<rect x="160" y="231" width="1" height="3" fill="#ff4500"/>
<rect x="164" y="210" width="1" height="41" fill="#ff0000"/>
<rect x="163" y="228" width="3" height="22" fill="#ff0000"/>
<rect x="164" y="229" width="1" height="20" fill="#ff4500"/>
<rect x="168" y="213" width="1" height="33" fill="#1ec61e"/>
<rect x="167" y="228" width="3" height="10" fill="#1ec61e"/>
<rect x="168" y="229" width="1" height="8" fill="#32cd32"/>
<rect x="172" y="227" width="1" height="36" fill="#1ec61e"/>
<rect x="171" y="236" width="3" height="18" fill="#1ec61e"/>
<rect x="172" y="237" width="1" height="16" fill="#32cd32"/>
<rect x="176" y="174" width="1" height="84" fill="#ff0000"/>
<rect x="175" y="176" width="3" height="77" fill="#ff0000"/>
<rect x="176" y="177" width="1" height="75" fill="#ff4500"/>
<rect x="180" y="162" width="1" height="65" fill="#1ec61e"/>
<rect x="179" y="176" width="3" height="19" fill="#1ec61e"/>
<rect x="180" y="177" width="1" height="17" fill="#32cd32"/>
<rect x="184" y="207" width="1" height="21" fill="#1ec61e"/>
<rect x="183" y="216" width="3" height="10" fill="#1ec61e"/>
<rect x="184" y="217" width="1" height="8" fill="#32cd32"/>
<rect x="188" y="199" width="1" height="30" fill="#ff0000"/>
<rect x="187" y="213" width="3" height="13" fill="#ff0000"/>
<rect x="188" y="214" width="1" height="11" fill="#ff4500"/>
<rect x="192" y="199" width="1" height="39" fill="#ff0000"/>
<rect x="191" y="203" width="3" height="11" fill="#ff0000"/>
<rect x="192" y="204" width="1" height="9" fill="#ff4500"/>
<rect x="196" y="185" width="1" height="34" fill="#ff0000"/>
<rect x="195" y="191" width="3" height="13" fill="#ff0000"/>
<rect x="196" y="192" width="1" height="11" fill="#ff4500"/>
<rect x="200" y="132" width="1" height="66" fill="#ff0000"/>
<rect x="199" y="154" width="3" height="37" fill="#ff0000"/>
<rect x="200" y="155" width="1" height="35" fill="#ff4500"/>
<rect x="204" y="60" width="1" height="107" fill="#ff0000"/>
<rect x="203" y="65" width="3" height="97" fill="#ff0000"/>
<rect x="204" y="66" width="1" height="95" fill="#ff4500"/>
<rect x="208" y="60" width="1" height="99" fill="#1ec61e"/>
<rect x="207" y="65" width="3" height="82" fill="#1ec61e"/>
<rect x="208" y="66" width="1" height="80" fill="#32cd32"/>
<rect x="212" y="132" width="1" height="54" fill="#1ec61e"/>
<rect x="211" y="145" width="3" height="31" fill="#1ec61e"/>
<rect x="212" y="146" width="1" height="29" fill="#32cd32"/>
<rect x="216" y="167" width="1" height="43" fill="#1ec61e"/>
<rect x="215" y="175" width="3" height="28" fill="#1ec61e"/>
<rect x="216" y="176" width="1" height="26" fill="#32cd32"/>
<rect x="220" y="153" width="1" height="58" fill="#ff0000"/>
<rect x="219" y="175" width="3" height="28" fill="#ff0000"/>
<rect x="220" y="176" width="1" height="26" fill="#ff4500"/>
<rect x="224" y="149" width="1" height="37" fill="#ff0000"/>
<rect x="223" y="177" width="3" height="2" fill="#ff0000"/>
<rect x="228" y="166" width="1" height="14" fill="#ff0000"/>
<rect x="227" y="174" width="3" height="4" fill="#ff0000"/>
<rect x="228" y="175" width="1" height="2" fill="#ff4500"/>
<rect x="232" y="159" width="1" height="41" fill="#1ec61e"/>
<rect x="231" y="174" width="3" height="19" fill="#1ec61e"/>
<rect x="232" y="175" width="1" height="17" fill="#32cd32"/>
<rect x="236" y="153" width="1" height="43" fill="#ff0000"/>
<rect x="235" y="162" width="3" height="31" fill="#ff0000"/>
<rect x="236" y="163" width="1" height="29" fill="#ff4500"/>
<rect x="240" y="141" width="1" height="29" fill="#1ec61e"/>
<rect x="239" y="162" width="3" height="2" fill="#1ec61e"/>
<rect x="244" y="150" width="1" height="22" fill="#1ec61e"/>
<rect x="243" y="154" width="3" height="10" fill="#1ec61e"/>
<rect x="244" y="155" width="1" height="8" fill="#32cd32"/>
<rect x="248" y="139" width="1" height="32" fill="#ff0000"/>
<rect x="247" y="140" width="3" height="25" fill="#ff0000"/>
<rect x="248" y="141" width="1" height="23" fill="#ff4500"/>
<rect x="252" y="130" width="1" height="19" fill="#ff0000"/>
<rect x="251" y="131" width="3" height="9" fill="#ff0000"/>
<rect x="252" y="132" width="1" height="7" fill="#ff4500"/>
<rect x="256" y="95" width="1" height="42" fill="#ff0000"/>
<rect x="255" y="105" width="3" height="26" fill="#ff0000"/>
<rect x="256" y="106" width="1" height="24" fill="#ff4500"/>
<rect x="260" y="105" width="1" height="14" fill="#1ec61e"/>
<rect x="259" y="105" width="3" height="9" fill="#1ec61e"/>
<rect x="260" y="106" width="1" height="7" fill="#32cd32"/>
<rect x="264" y="50" width="1" height="65" fill="#ff0000"/>
<rect x="263" y="61" width="3" height="52" fill="#ff0000"/>
<rect x="264" y="62" width="1" height="50" fill="#ff4500"/>
<rect x="268" y="50" width="1" height="24" fill="#1ec61e"/>
<rect x="267" y="60" width="3" height="7" fill="#1ec61e"/>
<rect x="268" y="61" width="1" height="5" fill="#32cd32"/>
<rect x="272" y="58" width="1" height="35" fill="#1ec61e"/>
<rect x="271" y="67" width="3" height="16" fill="#1ec61e"/>
<rect x="272" y="68" width="1" height="14" fill="#32cd32"/>
<rect x="276" y="44" width="1" height="45" fill="#ff0000"/>
<rect x="275" y="67" width="3" height="16" fill="#ff0000"/>
<rect x="276" y="68" width="1" height="14" fill="#ff4500"/>
<rect x="280" y="50" width="1" height="50" fill="#1ec61e"/>
<rect x="279" y="68" width="3" height="23" fill="#1ec61e"/>
<rect x="280" y="69" width="1" height="21" fill="#32cd32"/>
<rect x="284" y="78" width="1" height="40" fill="#1ec61e"/>
<rect x="283" y="91" width="3" height="25" fill="#1ec61e"/>
<rect x="284" y="92" width="1" height="23" fill="#32cd32"/>
<rect x="288" y="96" width="1" height="22" fill="#ff0000"/>
<rect x="287" y="98" width="3" height="16" fill="#ff0000"/>
<rect x="288" y="99" width="1" height="14" fill="#ff4500"/>
<rect x="292" y="81" width="1" height="20" fill="#ff0000"/>
<rect x="291" y="91" width="3" height="8" fill="#ff0000"/>
<rect x="292" y="92" width="1" height="6" fill="#ff4500"/>
<rect x="296" y="70" width="1" height="30" fill="#ff0000"/>
<rect x="295" y="86" width="3" height="6" fill="#ff0000"/>
<rect x="296" y="87" width="1" height="4" fill="#ff4500"/>
<rect x="300" y="76" width="1" height="31" fill="#1ec61e"/>
<rect x="299" y="87" width="3" height="17" fill="#1ec61e"/>
<rect x="300" y="88" width="1" height="15" fill="#32cd32"/>
<rect x="304" y="87" width="1" height="27" fill="#1ec61e"/>
<rect x="303" y="103" width="3" height="7" fill="#1ec61e"/>
<rect x="304" y="104" width="1" height="5" fill="#32cd32"/>
<rect x="308" y="106" width="1" height="31" fill="#1ec61e"/>
<rect x="307" y="110" width="3" height="17" fill="#1ec61e"/>
<rect x="308" y="111" width="1" height="15" fill="#32cd32"/>
<rect x="312" y="109" width="1" height="33" fill="#1ec61e"/>
<rect x="311" y="124" width="3" height="10" fill="#1ec61e"/>
<rect x="312" y="125" width="1" height="8" fill="#32cd32"/>
<rect x="316" y="120" width="1" height="24" fill="#ff0000"/>
<rect x="315" y="133" width="3" height="3" fill="#ff0000"/>
<rect x="316" y="134" width="1" height="1" fill="#ff4500"/>
<rect x="320" y="123" width="1" height="48" fill="#1ec61e"/>
<rect x="319" y="133" width="3" height="30" fill="#1ec61e"/>
<rect x="320" y="134" width="1" height="28" fill="#32cd32"/>
<rect x="324" y="158" width="1" height="35" fill="#1ec61e"/>
<rect x="323" y="162" width="3" height="12" fill="#1ec61e"/>
<rect x="324" y="163" width="1" height="10" fill="#32cd32"/>
<rect x="328" y="171" width="1" height="23" fill="#1ec61e"/>
<rect x="327" y="172" width="3" height="15" fill="#1ec61e"/>
<rect x="328" y="173" width="1" height="13" fill="#32cd32"/>
<rect x="332" y="175" width="1" height="30" fill="#ff0000"/>
<rect x="331" y="181" width="3" height="6" fill="#ff0000"/>
<rect x="332" y="182" width="1" height="4" fill="#ff4500"/>
<rect x="336" y="177" width="1" height="20" fill="#1ec61e"/>
<rect x="335" y="180" width="3" height="15" fill="#1ec61e"/>
<rect x="336" y="181" width="1" height="13" fill="#32cd32"/>
<rect x="340" y="188" width="1" height="30" fill="#1ec61e"/>
<rect x="339" y="192" width="3" height="21" fill="#1ec61e"/>
<rect x="340" y="193" width="1" height="19" fill="#32cd32"/>
<rect x="344" y="195" width="1" height="20" fill="#ff0000"/>
<rect x="343" y="200" width="3" height="12" fill="#ff0000"/>
<rect x="344" y="201" width="1" height="10" fill="#ff4500"/>
<rect x="348" y="193" width="1" height="30" fill="#1ec61e"/>
<rect x="347" y="199" width="3" height="14" fill="#1ec61e"/>
<rect x="348" y="200" width="1" height="12" fill="#32cd32"/>
<rect x="352" y="213" width="1" height="20" fill="#1ec61e"/>
<rect x="351" y="214" width="3" height="15" fill="#1ec61e"/>
<rect x="352" y="215" width="1" height="13" fill="#32cd32"/>
<rect x="356" y="213" width="1" height="19" fill="#ff0000"/>
<rect x="355" y="214" width="3" height="15" fill="#ff0000"/>
<rect x="356" y="215" width="1" height="13" fill="#ff4500"/>
<rect x="360" y="199" width="1" height="23" fill="#1ec61e"/>
<rect x="359" y="216" width="3" height="3" fill="#1ec61e"/>
<rect x="360" y="217" width="1" height="1" fill="#32cd32"/>
<rect x="364" y="187" width="1" height="33" fill="#ff0000"/>
<rect x="363" y="199" width="3" height="20" fill="#ff0000"/>
<rect x="364" y="200" width="1" height="18" fill="#ff4500"/>
<rect x="368" y="185" width="1" height="22" fill="#ff0000"/>
<rect x="367" y="196" width="3" height="3" fill="#ff0000"/>
<rect x="368" y="197" width="1" height="1" fill="#ff4500"/>
<rect x="372" y="195" width="1" height="35" fill="#1ec61e"/>
<rect x="371" y="198" width="3" height="29" fill="#1ec61e"/>
<rect x="372" y="199" width="1" height="27" fill="#32cd32"/>
<rect x="376" y="223" width="1" height="77" fill="#1ec61e"/>
<rect x="375" y="225" width="3" height="72" fill="#1ec61e"/>
<rect x="376" y="226" width="1" height="70" fill="#32cd32"/>
<rect x="380" y="279" width="1" height="39" fill="#ff0000"/>
<rect x="379" y="291" width="3" height="10" fill="#ff0000"/>
<rect x="380" y="292" width="1" height="8" fill="#ff4500"/>
<rect x="384" y="276" width="1" height="23" fill="#ff0000"/>
<rect x="383" y="287" width="3" height="5" fill="#ff0000"/>
<rect x="384" y="288" width="1" height="3" fill="#ff4500"/>
<rect x="388" y="231" width="1" height="56" fill="#ff0000"/>
<rect x="387" y="241" width="3" height="41" fill="#ff0000"/>
<rect x="388" y="242" width="1" height="39" fill="#ff4500"/>
<rect x="392" y="235" width="1" height="24" fill="#1ec61e"/>
<rect x="391" y="241" width="3" height="10" fill="#1ec61e"/>
<rect x="392" y="242" width="1" height="8" fill="#32cd32"/>
<rect x="396" y="246" width="1" height="31" fill="#1ec61e"/>
<rect x="395" y="250" width="3" height="16" fill="#1ec61e"/>
<rect x="396" y="251" width="1" height="14" fill="#32cd32"/>
<rect x="400" y="249" width="1" height="19" fill="#ff0000"/>
<rect x="399" y="263" width="3" height="3" fill="#ff0000"/>
<rect x="400" y="264" width="1" height="1" fill="#ff4500"/>
<rect x="404" y="259" width="1" height="38" fill="#1ec61e"/>
<rect x="403" y="262" width="3" height="26" fill="#1ec61e"/>
<rect x="404" y="263" width="1" height="24" fill="#32cd32"/>
<rect x="408" y="262" width="1" height="29" fill="#ff0000"/>
<rect x="407" y="263" width="3" height="25" fill="#ff0000"/>
<rect x="408" y="264" width="1" height="23" fill="#ff4500"/>
<rect x="412" y="260" width="1" height="18" fill="#1ec61e"/>
<rect x="411" y="262" width="3" height="13" fill="#1ec61e"/>
<rect x="412" y="263" width="1" height="11" fill="#32cd32"/>
<rect x="416" y="261" width="1" height="22" fill="#ff0000"/>
<rect x="415" y="270" width="3" height="5" fill="#ff0000"/>
<rect x="416" y="271" width="1" height="3" fill="#ff4500"/>
<rect x="420" y="263" width="1" height="48" fill="#1ec61e"/>
<rect x="419" y="270" width="3" height="34" fill="#1ec61e"/>
<rect x="420" y="271" width="1" height="32" fill="#32cd32"/>
<rect x="424" y="300" width="1" height="36" fill="#1ec61e"/>
<rect x="423" y="303" width="3" height="6" fill="#1ec61e"/>
<rect x="424" y="304" width="1" height="4" fill="#32cd32"/>
<rect x="428" y="307" width="1" height="52" fill="#1ec61e"/>
<rect x="427" y="308" width="3" height="37" fill="#1ec61e"/>
<rect x="428" y="309" width="1" height="35" fill="#32cd32"/>
<rect x="432" y="334" width="1" height="38" fill="#1ec61e"/>
<rect x="431" y="344" width="3" height="12" fill="#1ec61e"/>
<rect x="432" y="345" width="1" height="10" fill="#32cd32"/>
<rect x="436" y="351" width="1" height="34" fill="#1ec61e"/>
<rect x="435" y="355" width="3" height="28" fill="#1ec61e"/>
<rect x="436" y="356" width="1" height="26" fill="#32cd32"/>
<rect x="440" y="361" width="1" height="34" fill="#1ec61e"/>
<rect x="439" y="368" width="3" height="4" fill="#1ec61e"/>
<rect x="440" y="369" width="1" height="2" fill="#32cd32"/>
<rect x="444" y="344" width="1" height="39" fill="#ff0000"/>
<rect x="443" y="351" width="3" height="21" fill="#ff0000"/>
<rect x="444" y="352" width="1" height="19" fill="#ff4500"/>
<rect x="448" y="336" width="1" height="22" fill="#ff0000"/>
<rect x="447" y="348" width="3" height="4" fill="#ff0000"/>
<rect x="448" y="349" width="1" height="2" fill="#ff4500"/>
<rect x="452" y="323" width="1" height="32" fill="#ff0000"/>
<rect x="451" y="325" width="3" height="24" fill="#ff0000"/>
<rect x="452" y="326" width="1" height="22" fill="#ff4500"/>
<rect x="456" y="308" width="1" height="38" fill="#1ec61e"/>
<rect x="455" y="325" width="3" height="14" fill="#1ec61e"/>
<rect x="456" y="326" width="1" height="12" fill="#32cd32"/>
<rect x="460" y="324" width="1" height="24" fill="#1ec61e"/>
<rect x="459" y="335" width="3" height="7" fill="#1ec61e"/>
<rect x="460" y="336" width="1" height="5" fill="#32cd32"/>
<rect x="464" y="320" width="1" height="25" fill="#ff0000"/>
<rect x="463" y="322" width="3" height="19" fill="#ff0000"/>
<rect x="464" y="323" width="1" height="17" fill="#ff4500"/>
<rect x="468" y="321" width="1" height="29" fill="#1ec61e"/>
<rect x="467" y="322" width="3" height="19" fill="#1ec61e"/>
<rect x="468" y="323" width="1" height="17" fill="#32cd32"/>
<rect x="472" y="331" width="1" height="25" fill="#1ec61e"/>
<rect x="471" y="340" width="3" height="6" fill="#1ec61e"/>
<rect x="472" y="341" width="1" height="4" fill="#32cd32"/>
<rect x="476" y="323" width="1" height="31" fill="#ff0000"/>
<rect x="475" y="331" width="3" height="15" fill="#ff0000"/>
<rect x="476" y="332" width="1" height="13" fill="#ff4500"/>
<rect x="480" y="294" width="1" height="37" fill="#ff0000"/>
<rect x="479" y="311" width="3" height="20" fill="#ff0000"/>
<rect x="480" y="312" width="1" height="18" fill="#ff4500"/>
<rect x="484" y="307" width="1" height="16" fill="#1ec61e"/>
<rect x="483" y="311" width="3" height="3" fill="#1ec61e"/>
<rect x="484" y="312" width="1" height="1" fill="#32cd32"/>
<rect x="488" y="260" width="1" height="79" fill="#ff0000"/>
<rect x="487" y="266" width="3" height="47" fill="#ff0000"/>
<rect x="488" y="267" width="1" height="45" fill="#ff4500"/>
<rect x="492" y="226" width="1" height="66" fill="#ff0000"/>
<rect x="491" y="245" width="3" height="22" fill="#ff0000"/>
<rect x="492" y="246" width="1" height="20" fill="#ff4500"/>
<rect x="496" y="229" width="1" height="34" fill="#ff0000"/>
<rect x="495" y="237" width="3" height="10" fill="#ff0000"/>
<rect x="496" y="238" width="1" height="8" fill="#ff4500"/>
<rect x="500" y="204" width="1" height="43" fill="#ff0000"/>
<rect x="499" y="223" width="3" height="20" fill="#ff0000"/>
<rect x="500" y="224" width="1" height="18" fill="#ff4500"/>
<rect x="504" y="195" width="1" height="35" fill="#ff0000"/>
<rect x="503" y="210" width="3" height="13" fill="#ff0000"/>
<rect x="504" y="211" width="1" height="11" fill="#ff4500"/>
<rect x="508" y="190" width="1" height="28" fill="#ff0000"/>
<rect x="507" y="206" width="3" height="5" fill="#ff0000"/>
<rect x="508" y="207" width="1" height="3" fill="#ff4500"/>
<rect x="512" y="195" width="1" height="31" fill="#1ec61e"/>
<rect x="511" y="206" width="3" height="12" fill="#1ec61e"/>
<rect x="512" y="207" width="1" height="10" fill="#32cd32"/>
<rect x="516" y="215" width="1" height="32" fill="#1ec61e"/>
<rect x="515" y="217" width="3" height="15" fill="#1ec61e"/>
<rect x="516" y="218" width="1" height="13" fill="#32cd32"/>
<rect x="520" y="221" width="1" height="18" fill="#ff0000"/>
<rect x="519" y="232" width="3" height="5" fill="#ff0000"/>
<rect x="520" y="233" width="1" height="3" fill="#ff4500"/>
<rect x="524" y="217" width="1" height="22" fill="#ff0000"/>
<rect x="523" y="226" width="3" height="7" fill="#ff0000"/>
<rect x="524" y="227" width="1" height="5" fill="#ff4500"/>
<rect x="528" y="220" width="1" height="17" fill="#ff0000"/>
<rect x="527" y="222" width="3" height="5" fill="#ff0000"/>
<rect x="528" y="223" width="1" height="3" fill="#ff4500"/>
<rect x="532" y="211" width="1" height="21" fill="#ff0000"/>
<rect x="531" y="213" width="3" height="10" fill="#ff0000"/>
<rect x="532" y="214" width="1" height="8" fill="#ff4500"/>
<rect x="536" y="190" width="1" height="32" fill="#1ec61e"/>
<rect x="535" y="213" width="3" height="4" fill="#1ec61e"/>
<rect x="536" y="214" width="1" height="2" fill="#32cd32"/>
<rect x="540" y="211" width="1" height="25" fill="#1ec61e"/>
<rect x="539" y="217" width="3" height="12" fill="#1ec61e"/>
<rect x="540" y="218" width="1" height="10" fill="#32cd32"/>
<rect x="544" y="195" width="1" height="42" fill="#ff0000"/>
<rect x="543" y="207" width="3" height="22" fill="#ff0000"/>
<rect x="544" y="208" width="1" height="20" fill="#ff4500"/>
<rect x="548" y="199" width="1" height="29" fill="#1ec61e"/>
<rect x="547" y="207" width="3" height="6" fill="#1ec61e"/>
<rect x="548" y="208" width="1" height="4" fill="#32cd32"/>
<rect x="552" y="174" width="1" height="41" fill="#ff0000"/>
<rect x="551" y="189" width="3" height="24" fill="#ff0000"/>
<rect x="552" y="190" width="1" height="22" fill="#ff4500"/>
<rect x="556" y="174" width="1" height="28" fill="#1ec61e"/>
<rect x="555" y="188" width="3" height="14" fill="#1ec61e"/>
<rect x="556" y="189" width="1" height="12" fill="#32cd32"/>
<rect x="560" y="200" width="1" height="15" fill="#1ec61e"/>
<rect x="559" y="206" width="3" height="5" fill="#1ec61e"/>
<rect x="560" y="207" width="1" height="3" fill="#32cd32"/>
<rect x="564" y="201" width="1" height="23" fill="#ff0000"/>
<rect x="563" y="203" width="3" height="8" fill="#ff0000"/>
<rect x="564" y="204" width="1" height="6" fill="#ff4500"/>
<rect x="568" y="197" width="1" height="52" fill="#1ec61e"/>
<rect x="567" y="203" width="3" height="28" fill="#1ec61e"/>
<rect x="568" y="204" width="1" height="26" fill="#32cd32"/>
<rect x="572" y="214" width="1" height="26" fill="#ff0000"/>
<rect x="571" y="228" width="3" height="3" fill="#ff0000"/>
<rect x="572" y="229" width="1" height="1" fill="#ff4500"/>
<rect x="576" y="200" width="1" height="31" fill="#ff0000"/>
<rect x="575" y="214" width="3" height="15" fill="#ff0000"/>
<rect x="576" y="215" width="1" height="13" fill="#ff4500"/>
<rect x="580" y="177" width="1" height="34" fill="#ff0000"/>
<rect x="579" y="182" width="3" height="28" fill="#ff0000"/>
<rect x="580" y="183" width="1" height="26" fill="#ff4500"/>
<rect x="584" y="182" width="1" height="22" fill="#1ec61e"/>
<rect x="583" y="182" width="3" height="16" fill="#1ec61e"/>
<rect x="584" y="183" width="1" height="14" fill="#32cd32"/>
<rect x="588" y="194" width="1" height="41" fill="#1ec61e"/>
<rect x="587" y="196" width="3" height="31" fill="#1ec61e"/>
<rect x="588" y="197" width="1" height="29" fill="#32cd32"/>
<rect x="592" y="207" width="1" height="22" fill="#ff0000"/>
<rect x="591" y="213" width="3" height="14" fill="#ff0000"/>
<rect x="592" y="214" width="1" height="12" fill="#ff4500"/>
<rect x="596" y="194" width="1" height="26" fill="#ff0000"/>
<rect x="595" y="211" width="3" height="1" fill="#ff0000"/>
<rect x="600" y="182" width="1" height="30" fill="#ff0000"/>
<rect x="599" y="202" width="3" height="9" fill="#ff0000"/>
<rect x="600" y="203" width="1" height="7" fill="#ff4500"/>
<rect x="604" y="132" width="1" height="72" fill="#ff0000"/>
<rect x="603" y="141" width="3" height="61" fill="#ff0000"/>
<rect x="604" y="142" width="1" height="59" fill="#ff4500"/>
<rect x="608" y="141" width="1" height="59" fill="#1ec61e"/>
<rect x="607" y="141" width="3" height="52" fill="#1ec61e"/>
<rect x="608" y="142" width="1" height="50" fill="#32cd32"/>
<rect x="612" y="184" width="1" height="56" fill="#1ec61e"/>
<rect x="611" y="192" width="3" height="42" fill="#1ec61e"/>
<rect x="612" y="193" width="1" height="40" fill="#32cd32"/>
<rect x="616" y="215" width="1" height="33" fill="#ff0000"/>
<rect x="615" y="226" width="3" height="9" fill="#ff0000"/>
<rect x="616" y="227" width="1" height="7" fill="#ff4500"/>
<rect x="620" y="216" width="1" height="19" fill="#1ec61e"/>
<rect x="619" y="224" width="3" height="5" fill="#1ec61e"/>
<rect x="620" y="225" width="1" height="3" fill="#32cd32"/>
<rect x="624" y="221" width="1" height="13" fill="#ff0000"/>
<rect x="623" y="227" width="3" height="2" fill="#ff0000"/>
<rect x="628" y="223" width="1" height="21" fill="#1ec61e"/>
<rect x="627" y="226" width="3" height="5" fill="#1ec61e"/>
<rect x="628" y="227" width="1" height="3" fill="#32cd32"/>
<rect x="632" y="227" width="1" height="16" fill="#1ec61e"/>
<rect x="631" y="230" width="3" height="4" fill="#1ec61e"/>
<rect x="632" y="231" width="1" height="2" fill="#32cd32"/>
<rect x="636" y="198" width="1" height="37" fill="#ff0000"/>
<rect x="635" y="206" width="3" height="28" fill="#ff0000"/>
<rect x="636" y="207" width="1" height="26" fill="#ff4500"/>
<rect x="640" y="192" width="1" height="17" fill="#ff0000"/>
<rect x="639" y="198" width="3" height="4" fill="#ff0000"/>
<rect x="640" y="199" width="1" height="2" fill="#ff4500"/>
<rect x="644" y="191" width="1" height="15" fill="#ff0000"/>
<rect x="643" y="194" width="3" height="5" fill="#ff0000"/>
<rect x="644" y="195" width="1" height="3" fill="#ff4500"/>
<rect x="648" y="185" width="1" height="31" fill="#1ec61e"/>
<rect x="647" y="194" width="3" height="15" fill="#1ec61e"/>
<rect x="648" y="195" width="1" height="13" fill="#32cd32"/>
<rect x="652" y="201" width="1" height="12" fill="#ff0000"/>
<rect x="651" y="207" width="3" height="2" fill="#ff0000"/>
<rect x="656" y="196" width="1" height="18" fill="#1ec61e"/>
<rect x="655" y="206" width="3" height="6" fill="#1ec61e"/>
<rect x="656" y="207" width="1" height="4" fill="#32cd32"/>
<rect x="660" y="202" width="1" height="14" fill="#1ec61e"/>
<rect x="659" y="204" width="3" height="7" fill="#1ec61e"/>
<rect x="660" y="205" width="1" height="5" fill="#32cd32"/>
<rect x="664" y="179" width="1" height="33" fill="#ff0000"/>
<rect x="663" y="186" width="3" height="25" fill="#ff0000"/>
<rect x="664" y="187" width="1" height="23" fill="#ff4500"/>
<rect x="668" y="184" width="1" height="21" fill="#1ec61e"/>
<rect x="667" y="186" width="3" height="11" fill="#1ec61e"/>
<rect x="668" y="187" width="1" height="9" fill="#32cd32"/>
<rect x="672" y="168" width="1" height="29" fill="#ff0000"/>
<rect x="671" y="176" width="3" height="21" fill="#ff0000"/>
<rect x="672" y="177" width="1" height="19" fill="#ff4500"/>
<rect x="676" y="159" width="1" height="22" fill="#1ec61e"/>
<rect x="675" y="176" width="3" height="1" fill="#1ec61e"/>
<rect x="680" y="173" width="1" height="40" fill="#1ec61e"/>
<rect x="679" y="174" width="3" height="33" fill="#1ec61e"/>
<rect x="680" y="175" width="1" height="31" fill="#32cd32"/>
<rect x="684" y="197" width="1" height="30" fill="#1ec61e"/>
<rect x="683" y="207" width="3" height="13" fill="#1ec61e"/>
<rect x="684" y="208" width="1" height="11" fill="#32cd32"/>
<rect x="688" y="206" width="1" height="18" fill="#ff0000"/>
<rect x="687" y="218" width="3" height="2" fill="#ff0000"/>
<rect x="692" y="196" width="1" height="24" fill="#ff0000"/>
<rect x="691" y="201" width="3" height="18" fill="#ff0000"/>
<rect x="692" y="202" width="1" height="16" fill="#ff4500"/>
<rect x="696" y="195" width="1" height="41" fill="#1ec61e"/>
<rect x="695" y="201" width="3" height="31" fill="#1ec61e"/>
<rect x="696" y="202" width="1" height="29" fill="#32cd32"/>
<rect x="700" y="221" width="1" height="11" fill="#ff0000"/>
<rect x="699" y="226" width="3" height="4" fill="#ff0000"/>
<rect x="700" y="227" width="1" height="2" fill="#ff4500"/>
<rect x="704" y="216" width="1" height="38" fill="#1ec61e"/>
<rect x="703" y="225" width="3" height="19" fill="#1ec61e"/>
<rect x="704" y="226" width="1" height="17" fill="#32cd32"/>
<rect x="708" y="228" width="1" height="26" fill="#1ec61e"/>
<rect x="707" y="243" width="3" height="4" fill="#1ec61e"/>
<rect x="708" y="244" width="1" height="2" fill="#32cd32"/>
<rect x="712" y="235" width="1" height="19" fill="#1ec61e"/>
<rect x="711" y="246" width="3" height="5" fill="#1ec61e"/>
<rect x="712" y="247" width="1" height="3" fill="#32cd32"/>
<rect x="716" y="238" width="1" height="50" fill="#1ec61e"/>
<rect x="715" y="250" width="3" height="18" fill="#1ec61e"/>
<rect x="716" y="251" width="1" height="16" fill="#32cd32"/>
<rect x="720" y="241" width="1" height="26" fill="#ff0000"/>
<rect x="719" y="250" width="3" height="17" fill="#ff0000"/>
<rect x="720" y="251" width="1" height="15" fill="#ff4500"/>
<rect x="724" y="227" width="1" height="26" fill="#ff0000"/>
<rect x="723" y="232" width="3" height="18" fill="#ff0000"/>
<rect x="724" y="233" width="1" height="16" fill="#ff4500"/>
<rect x="728" y="229" width="1" height="11" fill="#1ec61e"/>
<rect x="727" y="232" width="3" height="5" fill="#1ec61e"/>
<rect x="728" y="233" width="1" height="3" fill="#32cd32"/>
<rect x="732" y="230" width="1" height="25" fill="#1ec61e"/>
<rect x="731" y="235" width="3" height="12" fill="#1ec61e"/>
<rect x="732" y="236" width="1" height="10" fill="#32cd32"/>
<rect x="736" y="241" width="1" height="45" fill="#1ec61e"/>
<rect x="735" y="246" width="3" height="16" fill="#1ec61e"/>
<rect x="736" y="247" width="1" height="14" fill="#32cd32"/>
<rect x="740" y="243" width="1" height="21" fill="#ff0000"/>
<rect x="739" y="260" width="3" height="3" fill="#ff0000"/>
<rect x="740" y="261" width="1" height="1" fill="#ff4500"/>
<rect x="744" y="253" width="1" height="27" fill="#1ec61e"/>
<rect x="743" y="259" width="3" height="9" fill="#1ec61e"/>
<rect x="744" y="260" width="1" height="7" fill="#32cd32"/>
<rect x="748" y="258" width="1" height="30" fill="#1ec61e"/>
<rect x="747" y="267" width="3" height="14" fill="#1ec61e"/>
<rect x="748" y="268" width="1" height="12" fill="#32cd32"/>
<rect x="752" y="241" width="1" height="41" fill="#ff0000"/>
<rect x="751" y="244" width="3" height="37" fill="#ff0000"/>
<rect x="752" y="245" width="1" height="35" fill="#ff4500"/>
<rect x="756" y="218" width="1" height="40" fill="#ff0000"/>
<rect x="755" y="219" width="3" height="26" fill="#ff0000"/>
<rect x="756" y="220" width="1" height="24" fill="#ff4500"/>
<rect x="760" y="192" width="1" height="27" fill="#ff0000"/>
<rect x="759" y="202" width="3" height="13" fill="#ff0000"/>
<rect x="760" y="203" width="1" height="11" fill="#ff4500"/>
<rect x="764" y="193" width="1" height="24" fill="#ff0000"/>
<rect x="763" y="198" width="3" height="5" fill="#ff0000"/>
<rect x="764" y="199" width="1" height="3" fill="#ff4500"/>
<rect x="768" y="193" width="1" height="51" fill="#1ec61e"/>
<rect x="767" y="198" width="3" height="20" fill="#1ec61e"/>
<rect x="768" y="199" width="1" height="18" fill="#32cd32"/>
<rect x="772" y="212" width="1" height="34" fill="#1ec61e"/>
<rect x="771" y="218" width="3" height="13" fill="#1ec61e"/>
<rect x="772" y="219" width="1" height="11" fill="#32cd32"/>
<rect x="776" y="216" width="1" height="22" fill="#ff0000"/>
<rect x="775" y="228" width="3" height="3" fill="#ff0000"/>
<rect x="776" y="229" width="1" height="1" fill="#ff4500"/>
<rect x="780" y="220" width="1" height="24" fill="#1ec61e"/>
<rect x="779" y="232" width="3" height="3" fill="#1ec61e"/>
<rect x="780" y="233" width="1" height="1" fill="#32cd32"/>
<rect x="784" y="217" width="1" height="28" fill="#ff0000"/>
<rect x="783" y="218" width="3" height="17" fill="#ff0000"/>
<rect x="784" y="219" width="1" height="15" fill="#ff4500"/>
<rect x="788" y="204" width="1" height="22" fill="#ff0000"/>
<rect x="787" y="206" width="3" height="13" fill="#ff0000"/>
<rect x="788" y="207" width="1" height="11" fill="#ff4500"/>
<rect x="792" y="205" width="1" height="51" fill="#1ec61e"/>
<rect x="791" y="206" width="3" height="45" fill="#1ec61e"/>
<rect x="792" y="207" width="1" height="43" fill="#32cd32"/>
<rect x="796" y="231" width="1" height="51" fill="#1ec61e"/>
<rect x="795" y="250" width="3" height="28" fill="#1ec61e"/>
<rect x="796" y="251" width="1" height="26" fill="#32cd32"/>
<rect x="800" y="235" width="1" height="29" fill="#ff0000"/>
<rect x="799" y="249" width="3" height="12" fill="#ff0000"/>
<rect x="800" y="250" width="1" height="10" fill="#ff4500"/>
<rect x="804" y="234" width="1" height="27" fill="#1ec61e"/>
<rect x="803" y="250" width="3" height="2" fill="#1ec61e"/>
<rect x="808" y="217" width="1" height="37" fill="#ff0000"/>
<rect x="807" y="241" width="3" height="11" fill="#ff0000"/>
<rect x="808" y="242" width="1" height="9" fill="#ff4500"/>
<rect x="812" y="238" width="1" height="15" fill="#1ec61e"/>
<rect x="811" y="242" width="3" height="7" fill="#1ec61e"/>
<rect x="812" y="243" width="1" height="5" fill="#32cd32"/>
<rect x="816" y="239" width="1" height="23" fill="#1ec61e"/>
<rect x="815" y="248" width="3" height="10" fill="#1ec61e"/>
<rect x="816" y="249" width="1" height="8" fill="#32cd32"/>
<rect x="820" y="234" width="1" height="36" fill="#ff0000"/>
<rect x="819" y="235" width="3" height="21" fill="#ff0000"/>
<rect x="820" y="236" width="1" height="19" fill="#ff4500"/>
<rect x="824" y="227" width="1" height="24" fill="#1ec61e"/>
<rect x="823" y="236" width="3" height="6" fill="#1ec61e"/>
<rect x="824" y="237" width="1" height="4" fill="#32cd32"/>
<rect x="828" y="240" width="1" height="46" fill="#1ec61e"/>
<rect x="827" y="241" width="3" height="40" fill="#1ec61e"/>
<rect x="828" y="242" width="1" height="38" fill="#32cd32"/>
<rect x="832" y="264" width="1" height="23" fill="#ff0000"/>
<rect x="831" y="270" width="3" height="11" fill="#ff0000"/>
<rect x="832" y="271" width="1" height="9" fill="#ff4500"/>
<rect x="836" y="267" width="1" height="24" fill="#1ec61e"/>
<rect x="835" y="270" width="3" height="3" fill="#1ec61e"/>
<rect x="836" y="271" width="1" height="1" fill="#32cd32"/>
<rect x="840" y="265" width="1" height="20" fill="#1ec61e"/>
<rect x="839" y="275" width="3" height="6" fill="#1ec61e"/>
<rect x="840" y="276" width="1" height="4" fill="#32cd32"/>
<rect x="844" y="280" width="1" height="91" fill="#1ec61e"/>
<rect x="843" y="281" width="3" height="80" fill="#1ec61e"/>
<rect x="844" y="282" width="1" height="78" fill="#32cd32"/>
<rect x="848" y="330" width="1" height="34" fill="#ff0000"/>
<rect x="847" y="334" width="3" height="25" fill="#ff0000"/>
<rect x="848" y="335" width="1" height="23" fill="#ff4500"/>
<rect x="852" y="323" width="1" height="26" fill="#ff0000"/>
<rect x="851" y="332" width="3" height="2" fill="#ff0000"/>
<rect x="856" y="326" width="1" height="32" fill="#1ec61e"/>
<rect x="855" y="332" width="3" height="15" fill="#1ec61e"/>
<rect x="856" y="333" width="1" height="13" fill="#32cd32"/>
<rect x="860" y="340" width="1" height="22" fill="#1ec61e"/>
<rect x="859" y="348" width="3" height="5" fill="#1ec61e"/>
<rect x="860" y="349" width="1" height="3" fill="#32cd32"/>
<rect x="864" y="345" width="1" height="16" fill="#1ec61e"/>
<rect x="863" y="352" width="3" height="3" fill="#1ec61e"/>
<rect x="864" y="353" width="1" height="1" fill="#32cd32"/>
<rect x="868" y="328" width="1" height="31" fill="#ff0000"/>
<rect x="867" y="332" width="3" height="23" fill="#ff0000"/>
<rect x="868" y="333" width="1" height="21" fill="#ff4500"/>
<rect x="872" y="316" width="1" height="28" fill="#1ec61e"/>
<rect x="871" y="331" width="3" height="10" fill="#1ec61e"/>
<rect x="872" y="332" width="1" height="8" fill="#32cd32"/>
<rect x="876" y="308" width="1" height="42" fill="#ff0000"/>
<rect x="875" y="311" width="3" height="29" fill="#ff0000"/>
<rect x="876" y="312" width="1" height="27" fill="#ff4500"/>
<rect x="880" y="310" width="1" height="25" fill="#1ec61e"/>
<rect x="879" y="313" width="3" height="18" fill="#1ec61e"/>
<rect x="880" y="314" width="1" height="16" fill="#32cd32"/>
<rect x="884" y="317" width="1" height="19" fill="#ff0000"/>
<rect x="883" y="321" width="3" height="10" fill="#ff0000"/>
<rect x="884" y="322" width="1" height="8" fill="#ff4500"/>
<rect x="888" y="313" width="1" height="24" fill="#1ec61e"/>
<rect x="887" y="320" width="3" height="15" fill="#1ec61e"/>
<rect x="888" y="321" width="1" height="13" fill="#32cd32"/>
<rect x="892" y="320" width="1" height="18" fill="#ff0000"/>
<rect x="891" y="330" width="3" height="6" fill="#ff0000"/>
<rect x="892" y="331" width="1" height="4" fill="#ff4500"/>
<rect x="896" y="312" width="1" height="22" fill="#ff0000"/>
<rect x="895" y="326" width="3" height="5" fill="#ff0000"/>
<rect x="896" y="327" width="1" height="3" fill="#ff4500"/>
<rect x="900" y="324" width="1" height="23" fill="#1ec61e"/>
<rect x="899" y="328" width="3" height="14" fill="#1ec61e"/>
<rect x="900" y="329" width="1" height="12" fill="#32cd32"/>
<rect x="904" y="326" width="1" height="20" fill="#1ec61e"/>
<rect x="903" y="340" width="3" height="4" fill="#1ec61e"/>
<rect x="904" y="341" width="1" height="2" fill="#32cd32"/>
<rect x="908" y="320" width="1" height="26" fill="#ff0000"/>
<rect x="907" y="324" width="3" height="18" fill="#ff0000"/>
<rect x="908" y="325" width="1" height="16" fill="#ff4500"/>
<rect x="912" y="312" width="1" height="35" fill="#1ec61e"/>
<rect x="911" y="324" width="3" height="12" fill="#1ec61e"/>
<rect x="912" y="325" width="1" height="10" fill="#32cd32"/>
<rect x="916" y="329" width="1" height="38" fill="#1ec61e"/>
<rect x="915" y="334" width="3" height="16" fill="#1ec61e"/>
<rect x="916" y="335" width="1" height="14" fill="#32cd32"/>
<rect x="920" y="346" width="1" height="18" fill="#ff0000"/>
<rect x="919" y="350" width="3" height="7" fill="#ff0000"/>
<rect x="920" y="351" width="1" height="5" fill="#ff4500"/>
<rect x="924" y="327" width="1" height="54" fill="#ff0000"/>
<rect x="923" y="338" width="3" height="13" fill="#ff0000"/>
<rect x="924" y="339" width="1" height="11" fill="#ff4500"/>
</g>
<g shape-rendering="crispEdges">
<rect x="4" y="437" width="2" height="23" fill="#c0c0c0"/>
<rect x="7" y="437" width="3" height="21" fill="#c0c0c0"/>
<rect x="11" y="437" width="3" height="21" fill="#c0c0c0"/>
<rect x="15" y="437" width="3" height="21" fill="#c0c0c0"/>
<rect x="19" y="437" width="3" height="22" fill="#c0c0c0"/>
<rect x="23" y="437" width="3" height="26" fill="#c0c0c0"/>
<rect x="27" y="437" width="3" height="31" fill="#c0c0c0"/>
<rect x="31" y="437" width="3" height="34" fill="#c0c0c0"/>
<rect x="35" y="437" width="3" height="34" fill="#c0c0c0"/>
<rect x="39" y="437" width="3" height="33" fill="#c0c0c0"/>
<rect x="43" y="437" width="3" height="31" fill="#c0c0c0"/>
<rect x="47" y="437" width="3" height="33" fill="#c0c0c0"/>
<rect x="51" y="437" width="3" height="32" fill="#c0c0c0"/>
<rect x="55" y="437" width="3" height="30" fill="#c0c0c0"/>
<rect x="59" y="437" width="3" height="27" fill="#c0c0c0"/>
<rect x="63" y="437" width="3" height="23" fill="#c0c0c0"/>
<rect x="67" y="437" width="3" height="21" fill="#c0c0c0"/>
<rect x="71" y="437" width="3" height="19" fill="#c0c0c0"/>
<rect x="75" y="437" width="3" height="17" fill="#c0c0c0"/>
<rect x="79" y="437" width="3" height="16" fill="#c0c0c0"/>
<rect x="83" y="437" width="3" height="14" fill="#c0c0c0"/>
<rect x="87" y="437" width="3" height="13" fill="#c0c0c0"/>
<rect x="91" y="437" width="3" height="11" fill="#c0c0c0"/>
<rect x="95" y="437" width="3" height="11" fill="#c0c0c0"/>
<rect x="99" y="437" width="3" height="12" fill="#c0c0c0"/>
<rect x="103" y="437" width="3" height="12" fill="#c0c0c0"/>
<rect x="107" y="437" width="3" height="13" fill="#c0c0c0"/>
<rect x="111" y="437" width="3" height="13" fill="#c0c0c0"/>
<rect x="115" y="437" width="3" height="13" fill="#c0c0c0"/>
<rect x="119" y="437" width="3" height="14" fill="#c0c0c0"/>
<rect x="123" y="437" width="3" height="15" fill="#c0c0c0"/>
<rect x="127" y="437" width="3" height="17" fill="#c0c0c0"/>
<rect x="131" y="437" width="3" height="19" fill="#c0c0c0"/>
<rect x="135" y="437" width="3" height="21" fill="#c0c0c0"/>
<rect x="139" y="437" width="3" height="22" fill="#c0c0c0"/>
<rect x="143" y="437" width="3" height="24" fill="#c0c0c0"/>
<rect x="147" y="437" width="3" height="23" fill="#c0c0c0"/>
<rect x="151" y="437" width="3" height="20" fill="#c0c0c0"/>
<rect x="155" y="437" width="3" height="17" fill="#c0c0c0"/>
<rect x="159" y="437" width="3" height="13" fill="#c0c0c0"/>
<rect x="163" y="437" width="3" height="11" fill="#c0c0c0"/>
<rect x="167" y="437" width="3" height="10" fill="#c0c0c0"/>
<rect x="171" y="437" width="3" height="9" fill="#c0c0c0"/>
<rect x="175" y="437" width="3" height="4" fill="#c0c0c0"/>
<rect x="179" y="437" width="3" height="1" fill="#c0c0c0"/>
<rect x="183" y="437" width="3" height="1" fill="#c0c0c0"/>
<rect x="187" y="436" width="3" height="1" fill="#c0c0c0"/>
<rect x="191" y="434" width="3" height="3" fill="#c0c0c0"/>
<rect x="195" y="431" width="3" height="6" fill="#c0c0c0"/>
<rect x="199" y="427" width="3" height="10" fill="#c0c0c0"/>
<rect x="203" y="423" width="3" height="14" fill="#c0c0c0"/>
<rect x="207" y="420" width="3" height="17" fill="#c0c0c0"/>
<rect x="211" y="421" width="3" height="16" fill="#c0c0c0"/>
<rect x="215" y="423" width="3" height="14" fill="#c0c0c0"/>
<rect x="219" y="424" width="3" height="13" fill="#c0c0c0"/>
<rect x="223" y="425" width="3" height="12" fill="#c0c0c0"/>
<rect x="227" y="426" width="3" height="11" fill="#c0c0c0"/>
<rect x="231" y="426" width="3" height="11" fill="#c0c0c0"/>
<rect x="235" y="425" width="3" height="12" fill="#c0c0c0"/>
<rect x="239" y="425" width="3" height="12" fill="#c0c0c0"/>
<rect x="243" y="425" width="3" height="12" fill="#c0c0c0"/>
<rect x="247" y="423" width="3" height="14" fill="#c0c0c0"/>
<rect x="251" y="421" width="3" height="16" fill="#c0c0c0"/>
<rect x="255" y="418" width="3" height="19" fill="#c0c0c0"/>
<rect x="259" y="416" width="3" height="21" fill="#c0c0c0"/>
<rect x="263" y="414" width="3" height="23" fill="#c0c0c0"/>
<rect x="267" y="412" width="3" height="25" fill="#c0c0c0"/>
<rect x="271" y="411" width="3" height="26" fill="#c0c0c0"/>
<rect x="275" y="410" width="3" height="27" fill="#c0c0c0"/>
<rect x="279" y="411" width="3" height="26" fill="#c0c0c0"/>
<rect x="283" y="413" width="3" height="24" fill="#c0c0c0"/>
<rect x="287" y="415" width="3" height="22" fill="#c0c0c0"/>
<rect x="291" y="415" width="3" height="22" fill="#c0c0c0"/>
<rect x="295" y="415" width="3" height="22" fill="#c0c0c0"/>
<rect x="299" y="417" width="3" height="20" fill="#c0c0c0"/>
<rect x="303" y="419" width="3" height="18" fill="#c0c0c0"/>
<rect x="307" y="422" width="3" height="15" fill="#c0c0c0"/>
<rect x="311" y="425" width="3" height="12" fill="#c0c0c0"/>
<rect x="315" y="428" width="3" height="9" fill="#c0c0c0"/>
<rect x="319" y="431" width="3" height="6" fill="#c0c0c0"/>
<rect x="323" y="435" width="3" height="2" fill="#c0c0c0"/>
<rect x="327" y="437" width="3" height="1" fill="#c0c0c0"/>
<rect x="331" y="437" width="3" height="3" fill="#c0c0c0"/>
<rect x="335" y="437" width="3" height="6" fill="#c0c0c0"/>
<rect x="339" y="437" width="3" height="10" fill="#c0c0c0"/>
<rect x="343" y="437" width="3" height="12" fill="#c0c0c0"/>
<rect x="347" y="437" width="3" height="14" fill="#c0c0c0"/>
<rect x="351" y="437" width="3" height="15" fill="#c0c0c0"/>
<rect x="355" y="437" width="3" height="16" fill="#c0c0c0"/>
<rect x="359" y="437" width="3" height="17" fill="#c0c0c0"/>
<rect x="363" y="437" width="3" height="16" fill="#c0c0c0"/>
<rect x="367" y="437" width="3" height="16" fill="#c0c0c0"/>
<rect x="371" y="437" width="3" height="18" fill="#c0c0c0"/>
<rect x="375" y="437" width="3" height="21" fill="#c0c0c0"/>
<rect x="379" y="437" width="3" height="24" fill="#c0c0c0"/>
<rect x="383" y="437" width="3" height="25" fill="#c0c0c0"/>
<rect x="387" y="437" width="3" height="24" fill="#c0c0c0"/>
<rect x="391" y="437" width="3" height="23" fill="#c0c0c0"/>
<rect x="395" y="437" width="3" height="23" fill="#c0c0c0"/>
<rect x="399" y="437" width="3" height="23" fill="#c0c0c0"/>
<rect x="403" y="437" width="3" height="23" fill="#c0c0c0"/>
<rect x="407" y="437" width="3" height="22" fill="#c0c0c0"/>
<rect x="411" y="437" width="3" height="22" fill="#c0c0c0"/>
<rect x="415" y="437" width="3" height="23" fill="#c0c0c0"/>
<rect x="419" y="437" width="3" height="23" fill="#c0c0c0"/>
<rect x="423" y="437" width="3" height="24" fill="#c0c0c0"/>
<rect x="427" y="437" width="3" height="26" fill="#c0c0c0"/>
<rect x="431" y="437" width="3" height="30" fill="#c0c0c0"/>
<rect x="435" y="437" width="3" height="32" fill="#c0c0c0"/>
<rect x="439" y="437" width="3" height="34" fill="#c0c0c0"/>
<rect x="443" y="437" width="3" height="34" fill="#c0c0c0"/>
<rect x="447" y="437" width="3" height="32" fill="#c0c0c0"/>
<rect x="451" y="437" width="3" height="30" fill="#c0c0c0"/>
<rect x="455" y="437" width="3" height="28" fill="#c0c0c0"/>
<rect x="459" y="437" width="3" height="26" fill="#c0c0c0"/>
<rect x="463" y="437" width="3" height="24" fill="#c0c0c0"/>
<rect x="467" y="437" width="3" height="23" fill="#c0c0c0"/>
<rect x="471" y="437" width="3" height="22" fill="#c0c0c0"/>
<rect x="475" y="437" width="3" height="20" fill="#c0c0c0"/>
<rect x="479" y="437" width="3" height="18" fill="#c0c0c0"/>
<rect x="483" y="437" width="3" height="16" fill="#c0c0c0"/>
<rect x="487" y="437" width="3" height="10" fill="#c0c0c0"/>
<rect x="491" y="437" width="3" height="5" fill="#c0c0c0"/>
<rect x="495" y="437" width="3" height="1" fill="#c0c0c0"/>
<rect x="499" y="433" width="3" height="4" fill="#c0c0c0"/>
<rect x="503" y="429" width="3" height="8" fill="#c0c0c0"/>
<rect x="507" y="425" width="3" height="12" fill="#c0c0c0"/>
<rect x="511" y="423" width="3" height="14" fill="#c0c0c0"/>
<rect x="515" y="423" width="3" height="14" fill="#c0c0c0"/>
<rect x="519" y="423" width="3" height="14" fill="#c0c0c0"/>
<rect x="523" y="422" width="3" height="15" fill="#c0c0c0"/>
<rect x="527" y="422" width="3" height="15" fill="#c0c0c0"/>
<rect x="531" y="421" width="3" height="16" fill="#c0c0c0"/>
<rect x="535" y="421" width="3" height="16" fill="#c0c0c0"/>
<rect x="539" y="421" width="3" height="16" fill="#c0c0c0"/>
<rect x="543" y="421" width="3" height="16" fill="#c0c0c0"/>
<rect x="547" y="421" width="3" height="16" fill="#c0c0c0"/>
<rect x="551" y="420" width="3" height="17" fill="#c0c0c0"/>
<rect x="555" y="420" width="3" height="17" fill="#c0c0c0"/>
<rect x="559" y="421" width="3" height="16" fill="#c0c0c0"/>
<rect x="563" y="422" width="3" height="15" fill="#c0c0c0"/>
<rect x="567" y="424" width="3" height="13" fill="#c0c0c0"/>
<rect x="571" y="425" width="3" height="12" fill="#c0c0c0"/>
<rect x="575" y="425" width="3" height="12" fill="#c0c0c0"/>
<rect x="579" y="424" width="3" height="13" fill="#c0c0c0"/>
<rect x="583" y="425" width="3" height="12" fill="#c0c0c0"/>
<rect x="587" y="426" width="3" height="11" fill="#c0c0c0"/>
<rect x="591" y="427" width="3" height="10" fill="#c0c0c0"/>
<rect x="595" y="428" width="3" height="9" fill="#c0c0c0"/>
<rect x="599" y="428" width="3" height="9" fill="#c0c0c0"/>
<rect x="603" y="424" width="3" height="13" fill="#c0c0c0"/>
<rect x="607" y="424" width="3" height="13" fill="#c0c0c0"/>
<rect x="611" y="426" width="3" height="11" fill="#c0c0c0"/>
<rect x="615" y="429" width="3" height="8" fill="#c0c0c0"/>
<rect x="619" y="431" width="3" height="6" fill="#c0c0c0"/>
<rect x="623" y="433" width="3" height="4" fill="#c0c0c0"/>
<rect x="627" y="434" width="3" height="3" fill="#c0c0c0"/>
<rect x="631" y="436" width="3" height="1" fill="#c0c0c0"/>
<rect x="635" y="436" width="3" height="1" fill="#c0c0c0"/>
<rect x="639" y="434" width="3" height="3" fill="#c0c0c0"/>
<rect x="643" y="433" width="3" height="4" fill="#c0c0c0"/>
<rect x="647" y="434" width="3" height="3" fill="#c0c0c0"/>
<rect x="651" y="434" width="3" height="3" fill="#c0c0c0"/>
<rect x="655" y="434" width="3" height="3" fill="#c0c0c0"/>
<rect x="659" y="434" width="3" height="3" fill="#c0c0c0"/>
<rect x="663" y="432" width="3" height="5" fill="#c0c0c0"/>
<rect x="667" y="432" width="3" height="5" fill="#c0c0c0"/>
<rect x="671" y="430" width="3" height="7" fill="#c0c0c0"/>
<rect x="675" y="429" width="3" height="8" fill="#c0c0c0"/>
<rect x="679" y="432" width="3" height="5" fill="#c0c0c0"/>
<rect x="683" y="434" width="3" height="3" fill="#c0c0c0"/>
<rect x="687" y="434" width="3" height="3" fill="#c0c0c0"/>
<rect x="691" y="435" width="3" height="2" fill="#c0c0c0"/>
<rect x="695" y="436" width="3" height="1" fill="#c0c0c0"/>
<rect x="699" y="437" width="3" height="1" fill="#c0c0c0"/>
<rect x="703" y="437" width="3" height="3" fill="#c0c0c0"/>
<rect x="707" y="437" width="3" height="5" fill="#c0c0c0"/>
<rect x="711" y="437" width="3" height="6" fill="#c0c0c0"/>
<rect x="715" y="437" width="3" height="8" fill="#c0c0c0"/>
<rect x="719" y="437" width="3" height="9" fill="#c0c0c0"/>
<rect x="723" y="437" width="3" height="8" fill="#c0c0c0"/>
<rect x="727" y="437" width="3" height="8" fill="#c0c0c0"/>
<rect x="731" y="437" width="3" height="8" fill="#c0c0c0"/>
<rect x="735" y="437" width="3" height="9" fill="#c0c0c0"/>
<rect x="739" y="437" width="3" height="10" fill="#c0c0c0"/>
<rect x="743" y="437" width="3" height="10" fill="#c0c0c0"/>
<rect x="747" y="437" width="3" height="12" fill="#c0c0c0"/>
<rect x="751" y="437" width="3" height="11" fill="#c0c0c0"/>
<rect x="755" y="437" width="3" height="8" fill="#c0c0c0"/>
<rect x="759" y="437" width="3" height="4" fill="#c0c0c0"/>
<rect x="763" y="437" width="3" height="1" fill="#c0c0c0"/>
<rect x="767" y="437" width="3" height="1" fill="#c0c0c0"/>
<rect x="771" y="437" width="3" height="1" fill="#c0c0c0"/>
<rect x="775" y="436" width="3" height="1" fill="#c0c0c0"/>
<rect x="779" y="436" width="3" height="1" fill="#c0c0c0"/>
<rect x="783" y="435" width="3" height="2" fill="#c0c0c0"/>
<rect x="787" y="435" width="3" height="2" fill="#c0c0c0"/>
<rect x="791" y="437" width="3" height="1" fill="#c0c0c0"/>
<rect x="795" y="437" width="3" height="3" fill="#c0c0c0"/>
<rect x="799" y="437" width="3" height="4" fill="#c0c0c0"/>
<rect x="803" y="437" width="3" height="4" fill="#c0c0c0"/>
<rect x="807" y="437" width="3" height="3" fill="#c0c0c0"/>
<rect x="811" y="437" width="3" height="4" fill="#c0c0c0"/>
<rect x="815" y="437" width="3" height="5" fill="#c0c0c0"/>
<rect x="819" y="437" width="3" height="4" fill="#c0c0c0"/>
<rect x="823" y="437" width="3" height="4" fill="#c0c0c0"/>
<rect x="827" y="437" width="3" height="6" fill="#c0c0c0"/>
<rect x="831" y="437" width="3" height="7" fill="#c0c0c0"/>
<rect x="835" y="437" width="3" height="8" fill="#c0c0c0"/>
<rect x="839" y="437" width="3" height="9" fill="#c0c0c0"/>
<rect x="843" y="437" width="3" height="15" fill="#c0c0c0"/>
<rect x="847" y="437" width="3" height="17" fill="#c0c0c0"/>
<rect x="851" y="437" width="3" height="19" fill="#c0c0c0"/>
<rect x="855" y="437" width="3" height="21" fill="#c0c0c0"/>
<rect x="859" y="437" width="3" height="23" fill="#c0c0c0"/>
<rect x="863" y="437" width="3" height="24" fill="#c0c0c0"/>
<rect x="867" y="437" width="3" height="23" fill="#c0c0c0"/>
<rect x="871" y="437" width="3" height="23" fill="#c0c0c0"/>
<rect x="875" y="437" width="3" height="21" fill="#c0c0c0"/>
<rect x="879" y="437" width="3" height="19" fill="#c0c0c0"/>
<rect x="883" y="437" width="3" height="19" fill="#c0c0c0"/>
<rect x="887" y="437" width="3" height="18" fill="#c0c0c0"/>
<rect x="891" y="437" width="3" height="17" fill="#c0c0c0"/>
<rect x="895" y="437" width="3" height="16" fill="#c0c0c0"/>
<rect x="899" y="437" width="3" height="16" fill="#c0c0c0"/>
<rect x="903" y="437" width="3" height="15" fill="#c0c0c0"/>
<rect x="907" y="437" width="3" height="14" fill="#c0c0c0"/>
<rect x="911" y="437" width="3" height="14" fill="#c0c0c0"/>
<rect x="915" y="437" width="3" height="14" fill="#c0c0c0"/>
<rect x="919" y="437" width="3" height="13" fill="#c0c0c0"/>
<rect x="923" y="437" width="3" height="13" fill="#c0c0c0"/>
<path d="M4 465h1v1h-1zM5 464h3v1h-3zM8 463h2v1h-2zM10 462h3v1h-3zM13 461h4v1h-4zM17 460h14v1h-14zM31 461h4v1h-4zM35 462h3v1h-3zM38 463h4v1h-4zM42 464h4v1h-4zM46 465h3v1h-3zM49 466h5v1h-5zM54 467h8v1h-8zM62 466h3v1h-3zM65 465h3v1h-3zM68 464h3v1h-3zM71 463h3v1h-3zM74 462h2v1h-2zM76 461h2v1h-2zM78 460h3v1h-3zM81 459h2v1h-2zM83 458h2v1h-2zM85 457h3v1h-3zM88 456h2v1h-2zM90 455h3v1h-3zM93 454h2v1h-2zM95 453h3v1h-3zM98 452h3v1h-3zM101 451h5v1h-5zM106 450h6v1h-6zM112 449h17v1h-17zM129 450h5v1h-5zM134 451h4v1h-4zM138 452h4v1h-4zM142 453h4v1h-4zM146 454h5v1h-5zM151 455h14v1h-14zM165 454h3v1h-3zM168 453h3v1h-3zM171 452h2v1h-2zM173 451h2v1h-2zM175 450h2v1h-2zM177 449h2v1h-2zM179 448h1v1h-1zM180 447h2v1h-2zM182 446h1v1h-1zM183 445h2v1h-2zM185 444h1v1h-1zM186 443h2v1h-2zM188 442h1v1h-1zM189 441h2v1h-2zM191 440h2v1h-2zM193 439h2v1h-2zM195 438h2v1h-2zM197 437h2v1h-2zM199 436h1v1h-1zM200 435h2v1h-2zM202 434h2v1h-2zM204 433h1v1h-1zM205 432h2v1h-2zM207 431h1v1h-1zM208 430h2v1h-2zM210 429h2v1h-2zM212 428h3v1h-3zM215 427h2v1h-2zM217 426h3v1h-3zM220 425h4v1h-4zM224 424h8v1h-8zM232 423h9v1h-9zM241 424h11v1h-11zM252 423h7v1h-7zM259 422h4v1h-4zM263 421h3v1h-3zM266 420h3v1h-3zM269 419h2v1h-2zM271 418h3v1h-3zM274 417h2v1h-2zM276 416h3v1h-3zM279 415h2v1h-2zM281 414h4v1h-4zM285 413h18v1h-18zM303 414h5v1h-5zM308 415h3v1h-3zM311 416h3v1h-3zM314 417h2v1h-2zM316 418h2v1h-2zM318 419h2v1h-2zM320 420h2v1h-2zM322 421h2v1h-2zM324 422h2v1h-2zM326 423h1v1h-1zM327 424h2v1h-2zM329 425h1v1h-1zM330 426h1v1h-1zM331 427h2v1h-2zM333 428h1v1h-1zM334 429h1v1h-1zM335 430h1v1h-1zM336 431h2v1h-2zM338 432h1v1h-1zM339 433h1v1h-1zM340 434h1v1h-1zM341 435h2v1h-2zM343 436h1v1h-1zM344 437h2v1h-2zM346 438h1v1h-1zM347 439h1v1h-1zM348 440h2v1h-2zM350 441h1v1h-1zM351 442h2v1h-2zM353 443h2v1h-2zM355 444h1v1h-1zM356 445h2v1h-2zM358 446h2v1h-2zM360 447h2v1h-2zM362 448h2v1h-2zM364 449h3v1h-3zM367 450h4v1h-4zM371 451h4v1h-4zM375 452h3v1h-3zM378 453h3v1h-3zM381 454h3v1h-3zM384 455h3v1h-3zM387 456h4v1h-4zM391 457h5v1h-5zM396 458h6v1h-6zM402 459h11v1h-11zM413 460h18v1h-18zM431 461h6v1h-6zM437 462h4v1h-4zM441 463h4v1h-4zM445 464h4v1h-4zM449 465h4v1h-4zM453 466h7v1h-7zM460 467h4v1h-4zM464 466h6v1h-6zM470 465h3v1h-3zM473 464h3v1h-3zM476 463h3v1h-3zM479 462h2v1h-2zM481 461h2v1h-2zM483 460h2v1h-2zM485 459h2v1h-2zM487 458h1v1h-1zM488 457h2v1h-2zM490 456h2v1h-2zM492 455h1v1h-1zM493 454h1v1h-1zM494 453h2v1h-2zM496 452h1v1h-1zM497 451h1v1h-1zM498 450h1v1h-1zM499 449h1v1h-1zM500 448h1v1h-1zM501 447h1v1h-1zM502 446h1v1h-1zM503 445h1v1h-1zM504 444h1v1h-1zM505 443h1v1h-1zM506 442h1v1h-1zM507 441h1v1h-1zM508 440h2v1h-2zM510 439h1v1h-1zM511 438h1v1h-1zM512 437h1v1h-1zM513 436h1v1h-1zM514 435h1v1h-1zM515 434h1v1h-1zM516 433h1v1h-1zM517 432h1v1h-1zM518 431h2v1h-2zM520 430h1v1h-1zM521 429h1v1h-1zM522 428h1v1h-1zM523 427h2v1h-2zM525 426h2v1h-2zM527 425h2v1h-2zM529 424h2v1h-2zM531 423h5v1h-5zM536 422h8v1h-8zM544 421h27v1h-27zM571 422h9v1h-9zM580 423h11v1h-11zM591 424h6v1h-6zM597 425h14v1h-14zM611 426h8v1h-8zM619 427h5v1h-5zM624 428h4v1h-4zM628 429h5v1h-5zM633 430h5v1h-5zM638 431h5v1h-5zM643 432h6v1h-6zM649 433h20v1h-20zM669 432h32v1h-32zM701 433h4v1h-4zM705 434h3v1h-3zM708 435h4v1h-4zM712 436h3v1h-3zM715 437h3v1h-3zM718 438h2v1h-2zM720 439h4v1h-4zM724 440h3v1h-3zM727 441h4v1h-4zM731 442h4v1h-4zM735 443h4v1h-4zM739 444h6v1h-6zM745 445h15v1h-15zM760 444h4v1h-4zM764 443h4v1h-4zM768 442h4v1h-4zM772 441h4v1h-4zM776 440h4v1h-4zM780 439h4v1h-4zM784 438h4v1h-4zM788 437h18v1h-18zM806 438h11v1h-11zM817 439h8v1h-8zM825 440h7v1h-7zM832 441h6v1h-6zM838 442h5v1h-5zM843 443h4v1h-4zM847 444h3v1h-3zM850 445h2v1h-2zM852 446h1v1h-1zM853 447h2v1h-2zM855 448h2v1h-2zM857 449h2v1h-2zM859 450h2v1h-2zM861 451h2v1h-2zM863 452h2v1h-2zM865 453h2v1h-2zM867 454h3v1h-3zM870 455h2v1h-2zM872 456h4v1h-4zM876 457h17v1h-17zM893 456h4v1h-4zM897 455h4v1h-4zM901 454h4v1h-4zM905 453h6v1h-6zM911 452h5v1h-5zM916 451h8v1h-8z" fill="#ff0000" shape-rendering="crispEdges"/>
</g>
<g shape-rendering="crispEdges">
<line x1="5" y1="498.5" x2="1166" y2="498.5" stroke="#c0c0c0" stroke-width="1" stroke-dasharray="3,3"/>
<line x1="5" y1="526.5" x2="1166" y2="526.5" stroke="#c0c0c0" stroke-width="1" stroke-dasharray="3,3"/>
</g>
<path d="M4 520h1v1h-1zM5 519h1v1h-1zM6 518h1v1h-1zM7 516h1v2h-1zM8 516h2v1h-2zM10 517h2v1h-2zM12 518h1v1h-1zM13 519h2v1h-2zM15 520h2v1h-2zM17 521h3v1h-3zM20 522h1v1h-1zM21 523h1v1h-1zM22 524h1v2h-1zM23 526h1v1h-1zM24 527h1v1h-1zM25 528h2v1h-2zM27 529h2v1h-2zM29 528h2v1h-2zM31 527h1v1h-1zM32 526h1v1h-1zM33 525h1v1h-1zM34 524h1v1h-1zM35 522h1v2h-1zM36 522h5v1h-5zM41 521h2v1h-2zM43 520h3v1h-3zM46 521h1v1h-1zM47 522h1v1h-1zM48 523h1v1h-1zM49 522h1v1h-1zM50 521h1v1h-1zM51 519h1v2h-1zM52 519h1v1h-1zM53 518h3v1h-3zM56 517h2v1h-2zM58 516h1v1h-1zM59 515h2v1h-2zM61 514h1v1h-1zM62 513h3v1h-3zM65 514h2v1h-2zM67 515h2v1h-2zM69 516h2v1h-2zM71 517h2v1h-2zM73 518h1v1h-1zM74 517h2v1h-2zM76 516h1v1h-1zM77 515h1v1h-1zM78 513h1v2h-1zM79 512h1v1h-1zM80 511h3v1h-3zM83 512h2v1h-2zM85 513h1v1h-1zM86 514h3v1h-3zM89 512h1v2h-1zM90 511h1v1h-1zM91 510h2v1h-2zM93 511h1v1h-1zM94 512h1v1h-1zM95 513h1v1h-1zM96 514h1v1h-1zM97 515h1v1h-1zM98 516h2v1h-2zM100 517h1v1h-1zM101 516h1v1h-1zM102 515h1v1h-1zM103 514h4v1h-4zM107 515h2v1h-2zM109 516h2v1h-2zM111 515h4v1h-4zM115 514h3v1h-3zM118 515h3v1h-3zM121 516h2v1h-2zM123 517h1v1h-1zM124 518h2v1h-2zM126 519h1v1h-1zM127 520h4v1h-4zM131 519h7v1h-7zM138 520h4v1h-4zM142 521h3v1h-3zM145 519h1v2h-1zM146 518h1v1h-1zM147 516h1v2h-1zM148 516h3v1h-3zM151 515h2v1h-2zM153 514h1v1h-1zM154 513h1v1h-1zM155 511h1v2h-1zM156 511h3v1h-3zM159 510h5v1h-5zM164 511h5v1h-5zM169 512h4v1h-4zM173 510h1v2h-1zM174 508h1v2h-1zM175 506h1v2h-1zM176 506h3v1h-3zM179 507h2v1h-2zM181 508h1v1h-1zM182 509h1v1h-1zM183 510h5v1h-5zM188 509h5v1h-5zM193 508h3v1h-3zM196 507h1v1h-1zM197 506h1v1h-1zM198 505h1v1h-1zM199 504h1v1h-1zM200 503h1v1h-1zM201 502h1v1h-1zM202 501h1v1h-1zM203 500h2v1h-2zM205 501h1v1h-1zM206 502h1v1h-1zM207 503h1v2h-1zM208 505h1v1h-1zM209 506h2v1h-2zM211 507h1v1h-1zM212 508h1v1h-1zM213 509h1v1h-1zM214 510h2v1h-2zM216 511h2v1h-2zM218 510h2v1h-2zM220 509h10v1h-10zM230 510h4v1h-4zM234 509h1v1h-1zM235 508h9v1h-9zM244 507h2v1h-2zM246 506h3v1h-3zM249 505h2v1h-2zM251 504h2v1h-2zM253 503h1v1h-1zM254 502h4v1h-4zM258 503h3v1h-3zM261 502h1v1h-1zM262 500h1v2h-1zM263 499h4v1h-4zM267 500h2v1h-2zM269 501h6v1h-6zM275 500h1v1h-1zM276 500h1v2h-1zM277 502h1v1h-1zM278 503h1v1h-1zM279 504h1v1h-1zM280 505h1v1h-1zM281 506h1v1h-1zM282 507h1v1h-1zM283 508h4v1h-4zM287 507h2v1h-2zM289 506h3v1h-3zM292 505h5v1h-5zM297 506h1v1h-1zM298 507h2v1h-2zM300 508h2v1h-2zM302 509h3v1h-3zM305 510h2v1h-2zM307 511h2v1h-2zM309 512h3v1h-3zM312 513h5v1h-5zM317 514h2v1h-2zM319 515h1v1h-1zM320 516h1v1h-1zM321 517h2v1h-2zM323 518h3v1h-3zM326 519h9v1h-9zM335 520h2v1h-2zM337 521h2v1h-2zM339 522h2v1h-2zM341 521h2v1h-2zM343 520h3v1h-3zM346 521h2v1h-2zM348 522h2v1h-2zM350 523h3v1h-3zM353 522h2v1h-2zM355 521h5v1h-5zM360 520h2v1h-2zM362 519h1v1h-1zM363 518h1v1h-1zM364 517h6v1h-6zM370 518h1v1h-1zM371 519h1v1h-1zM372 520h1v1h-1zM373 521h1v2h-1zM374 523h1v2h-1zM375 525h1v1h-1zM376 526h1v1h-1zM377 527h2v1h-2zM379 526h3v1h-3zM382 525h2v1h-2zM384 523h1v2h-1zM385 521h1v2h-1zM386 519h1v2h-1zM387 517h1v2h-1zM388 517h3v1h-3zM391 518h2v1h-2zM393 519h4v1h-4zM397 520h5v1h-5zM402 521h3v1h-3zM405 520h1v1h-1zM406 519h1v1h-1zM407 518h1v1h-1zM408 517h2v1h-2zM410 518h8v1h-8zM418 519h2v1h-2zM420 520h1v1h-1zM421 521h1v1h-1zM422 522h2v1h-2zM424 523h2v1h-2zM426 524h2v1h-2zM428 525h1v1h-1zM429 526h3v1h-3zM432 527h2v1h-2zM434 528h4v1h-4zM438 527h1v1h-1zM439 526h1v1h-1zM440 525h2v1h-2zM442 524h1v1h-1zM443 523h2v1h-2zM445 522h3v1h-3zM448 521h2v1h-2zM450 520h1v1h-1zM451 519h1v1h-1zM452 518h3v1h-3zM455 519h2v1h-2zM457 520h4v1h-4zM461 519h1v1h-1zM462 518h2v1h-2zM464 517h3v1h-3zM467 518h2v1h-2zM469 519h2v1h-2zM471 520h1v1h-1zM472 519h2v1h-2zM474 518h1v1h-1zM475 517h2v1h-2zM477 516h1v1h-1zM478 515h1v1h-1zM479 514h2v1h-2zM481 513h2v1h-2zM483 514h1v1h-1zM484 513h1v1h-1zM485 511h1v2h-1zM486 509h1v2h-1zM487 507h1v2h-1zM488 506h1v1h-1zM489 505h1v1h-1zM490 504h3v1h-3zM493 503h3v1h-3zM496 502h3v1h-3zM499 501h2v1h-2zM501 500h9v1h-9zM510 501h2v1h-2zM512 502h2v1h-2zM514 503h1v1h-1zM515 504h2v1h-2zM517 505h4v1h-4zM521 504h6v1h-6zM527 503h10v1h-10zM537 504h1v1h-1zM538 505h1v1h-1zM539 506h2v1h-2zM541 505h1v1h-1zM542 504h1v1h-1zM543 503h6v1h-6zM549 502h2v1h-2zM551 501h2v1h-2zM553 502h2v1h-2zM555 503h2v1h-2zM557 504h2v1h-2zM559 505h6v1h-6zM565 505h1v2h-1zM566 507h1v1h-1zM567 508h1v1h-1zM568 509h1v2h-1zM569 511h4v1h-4zM573 510h1v1h-1zM574 509h2v1h-2zM576 508h1v1h-1zM577 506h1v2h-1zM578 505h1v1h-1zM579 503h1v2h-1zM580 503h2v1h-2zM582 504h2v1h-2zM584 505h1v2h-1zM585 507h1v1h-1zM586 508h1v1h-1zM587 509h1v2h-1zM588 511h3v1h-3zM591 510h3v1h-3zM594 509h4v1h-4zM598 508h2v1h-2zM600 506h1v2h-1zM601 504h1v2h-1zM602 502h1v2h-1zM603 500h1v2h-1zM604 500h1v1h-1zM605 501h1v2h-1zM606 503h1v2h-1zM607 505h1v2h-1zM608 507h1v1h-1zM609 508h1v2h-1zM610 510h1v1h-1zM611 511h1v2h-1zM612 513h17v1h-17zM629 514h3v1h-3zM632 513h1v1h-1zM633 512h1v1h-1zM634 511h1v1h-1zM635 510h2v1h-2zM637 509h3v1h-3zM640 508h5v1h-5zM645 509h2v1h-2zM647 510h14v1h-14zM661 509h2v1h-2zM663 508h1v1h-1zM664 507h3v1h-3zM667 508h3v1h-3zM670 507h2v1h-2zM672 506h5v1h-5zM677 507h1v1h-1zM678 508h1v1h-1zM679 509h1v2h-1zM680 511h1v1h-1zM681 512h2v1h-2zM683 513h2v1h-2zM685 514h4v1h-4zM689 513h1v1h-1zM690 512h1v1h-1zM691 511h2v1h-2zM693 512h1v1h-1zM694 513h1v1h-1zM695 514h1v1h-1zM696 515h5v1h-5zM701 516h2v1h-2zM703 517h1v1h-1zM704 518h8v1h-8zM712 519h2v1h-2zM714 520h3v1h-3zM717 519h2v1h-2zM719 518h1v1h-1zM720 517h1v1h-1zM721 516h1v1h-1zM722 515h2v1h-2zM724 514h7v1h-7zM731 515h2v1h-2zM733 516h2v1h-2zM735 517h1v1h-1zM736 518h6v1h-6zM742 519h2v1h-2zM744 520h2v1h-2zM746 521h2v1h-2zM748 520h1v2h-1zM749 518h1v2h-1zM750 516h1v2h-1zM751 514h1v2h-1zM752 512h1v2h-1zM753 511h1v1h-1zM754 510h1v1h-1zM755 509h1v1h-1zM756 508h1v1h-1zM757 507h3v1h-3zM760 506h5v1h-5zM765 507h2v1h-2zM767 508h1v1h-1zM768 509h2v1h-2zM770 510h2v1h-2zM772 511h1v1h-1zM773 512h8v1h-8zM781 511h2v1h-2zM783 510h1v1h-1zM784 509h2v1h-2zM786 508h2v1h-2zM788 508h1v2h-1zM789 510h1v2h-1zM790 512h1v1h-1zM791 513h1v2h-1zM792 515h1v1h-1zM793 516h1v1h-1zM794 517h2v1h-2zM796 518h2v1h-2zM798 516h1v2h-1zM799 515h1v1h-1zM800 514h3v1h-3zM803 515h2v1h-2zM805 514h2v1h-2zM807 513h5v1h-5zM812 514h2v1h-2zM814 515h2v1h-2zM816 514h2v1h-2zM818 513h1v1h-1zM819 512h5v1h-5zM824 513h1v1h-1zM825 514h1v1h-1zM826 515h1v2h-1zM827 517h1v1h-1zM828 518h3v1h-3zM831 517h9v1h-9zM840 518h1v2h-1zM841 520h1v2h-1zM842 522h1v2h-1zM843 524h1v2h-1zM844 526h1v1h-1zM845 524h1v2h-1zM846 523h1v1h-1zM847 522h9v1h-9zM856 523h3v1h-3zM859 524h5v1h-5zM864 523h1v1h-1zM865 522h1v1h-1zM866 521h1v1h-1zM867 519h1v2h-1zM868 519h4v1h-4zM872 518h1v2h-1zM873 517h1v1h-1zM874 516h1v1h-1zM875 515h2v1h-2zM877 516h2v1h-2zM879 517h3v1h-3zM882 516h4v1h-4zM886 517h2v1h-2zM888 518h1v1h-1zM889 517h4v1h-4zM893 516h5v1h-5zM898 517h2v1h-2zM900 518h5v1h-5zM905 517h1v1h-1zM906 516h1v1h-1zM907 515h5v1h-5zM912 516h2v1h-2zM914 517h1v1h-1zM915 518h2v1h-2zM917 519h3v1h-3zM920 518h2v1h-2zM922 517h2v1h-2z" fill="#1e90ff" shape-rendering="crispEdges"/>
<g shape-rendering="crispEdges" fill="#000">
<rect x="1167" y="37" width="2" height="1"/>
<rect x="1167" y="70" width="2" height="1"/>
<rect x="1167" y="103" width="2" height="1"/>
<rect x="1167" y="136" width="2" height="1"/>
<rect x="1167" y="169" width="2" height="1"/>
<rect x="1167" y="202" width="2" height="1"/>
<rect x="1167" y="235" width="2" height="1"/>
<rect x="1167" y="268" width="2" height="1"/>
<rect x="1167" y="301" width="2" height="1"/>
<rect x="1167" y="334" width="2" height="1"/>
<rect x="1167" y="400" width="2" height="1"/>
<rect x="1167" y="407" width="2" height="1"/>
<rect x="1167" y="437" width="2" height="1"/>
<rect x="1167" y="473" width="2" height="1"/>
<rect x="1167" y="478" width="2" height="1"/>
<rect x="1167" y="498" width="2" height="1"/>
<rect x="1167" y="526" width="2" height="1"/>
<rect x="1167" y="546" width="2" height="1"/>
<rect x="4" y="548" width="1" height="3"/>
<rect x="68" y="548" width="1" height="3"/>
<rect x="132" y="548" width="1" height="3"/>
<rect x="196" y="548" width="1" height="3"/>
<rect x="260" y="548" width="1" height="3"/>
<rect x="324" y="548" width="1" height="3"/>
<rect x="388" y="548" width="1" height="3"/>
<rect x="452" y="548" width="1" height="3"/>
<rect x="516" y="548" width="1" height="3"/>
<rect x="580" y="548" width="1" height="3"/>
<rect x="644" y="548" width="1" height="3"/>
<rect x="708" y="548" width="1" height="3"/>
<rect x="772" y="548" width="1" height="3"/>
<rect x="836" y="548" width="1" height="3"/>
<rect x="900" y="548" width="1" height="3"/>
</g>
<text x="1172" y="41" font-family="Liberation Sans, Arial, sans-serif" font-size="9.8" textLength="32.5" lengthAdjust="spacingAndGlyphs" fill="#000" stroke="#000" stroke-width="0.12">6.59120</text>
<text x="1172" y="74" font-family="Liberation Sans, Arial, sans-serif" font-size="9.8" textLength="32.5" lengthAdjust="spacingAndGlyphs" fill="#000" stroke="#000" stroke-width="0.12">6.56910</text>
<text x="1172" y="107" font-family="Liberation Sans, Arial, sans-serif" font-size="9.8" textLength="32.5" lengthAdjust="spacingAndGlyphs" fill="#000" stroke="#000" stroke-width="0.12">6.54700</text>
<text x="1172" y="140" font-family="Liberation Sans, Arial, sans-serif" font-size="9.8" textLength="32.5" lengthAdjust="spacingAndGlyphs" fill="#000" stroke="#000" stroke-width="0.12">6.52490</text>
<text x="1172" y="173" font-family="Liberation Sans, Arial, sans-serif" font-size="9.8" textLength="32.5" lengthAdjust="spacingAndGlyphs" fill="#000" stroke="#000" stroke-width="0.12">6.50280</text>
<text x="1172" y="206" font-family="Liberation Sans, Arial, sans-serif" font-size="9.8" textLength="32.5" lengthAdjust="spacingAndGlyphs" fill="#000" stroke="#000" stroke-width="0.12">6.48005</text>
<text x="1172" y="239" font-family="Liberation Sans, Arial, sans-serif" font-size="9.8" textLength="32.5" lengthAdjust="spacingAndGlyphs" fill="#000" stroke="#000" stroke-width="0.12">6.45795</text>
<text x="1172" y="272" font-family="Liberation Sans, Arial, sans-serif" font-size="9.8" textLength="32.5" lengthAdjust="spacingAndGlyphs" fill="#000" stroke="#000" stroke-width="0.12">6.43585</text>
<text x="1172" y="305" font-family="Liberation Sans, Arial, sans-serif" font-size="9.8" textLength="32.5" lengthAdjust="spacingAndGlyphs" fill="#000" stroke="#000" stroke-width="0.12">6.41375</text>
<text x="1172" y="338" font-family="Liberation Sans, Arial, sans-serif" font-size="9.8" textLength="32.5" lengthAdjust="spacingAndGlyphs" fill="#000" stroke="#000" stroke-width="0.12">6.39165</text>
<text x="1172" y="404" font-family="Liberation Sans, Arial, sans-serif" font-size="9.8" textLength="32.5" lengthAdjust="spacingAndGlyphs" fill="#000" stroke="#000" stroke-width="0.12">6.34745</text>
<text x="1170" y="416" font-family="Liberation Sans, Arial, sans-serif" font-size="9.8" textLength="32.5" lengthAdjust="spacingAndGlyphs" fill="#000" stroke="#000" stroke-width="0.12">0.02607</text>
<text x="1170" y="441" font-family="Liberation Sans, Arial, sans-serif" font-size="9.8" textLength="17.5" lengthAdjust="spacingAndGlyphs" fill="#000" stroke="#000" stroke-width="0.12">0.00</text>
<text x="1170" y="471" font-family="Liberation Sans, Arial, sans-serif" font-size="9.8" textLength="40.8" lengthAdjust="spacingAndGlyphs" fill="#000" stroke="#000" stroke-width="0.12">-0.031872</text>
<text x="1170" y="487" font-family="Liberation Sans, Arial, sans-serif" font-size="9.8" textLength="15" lengthAdjust="spacingAndGlyphs" fill="#000" stroke="#000" stroke-width="0.12">100</text>
<text x="1170" y="502" font-family="Liberation Sans, Arial, sans-serif" font-size="9.8" textLength="10" lengthAdjust="spacingAndGlyphs" fill="#000" stroke="#000" stroke-width="0.12">70</text>
<text x="1170" y="530" font-family="Liberation Sans, Arial, sans-serif" font-size="9.8" textLength="10" lengthAdjust="spacingAndGlyphs" fill="#000" stroke="#000" stroke-width="0.12">30</text>
<text x="1170" y="544" font-family="Liberation Sans, Arial, sans-serif" font-size="9.8" textLength="5" lengthAdjust="spacingAndGlyphs" fill="#000" stroke="#000" stroke-width="0.12">0</text>
<g shape-rendering="crispEdges">
<rect x="1168" y="135" width="40" height="11" fill="#ff0000"/>
<rect x="1168" y="211" width="40" height="11" fill="#ff0000"/>
<rect x="1168" y="280" width="40" height="11" fill="#00ff00"/>
<rect x="1168" y="360" width="40" height="11" fill="#0000ff"/>
<rect x="1168" y="333" width="40" height="11" fill="#000000"/>
</g>
<text x="1172" y="144" font-family="Liberation Sans, Arial, sans-serif" font-size="9.8" textLength="32.5" lengthAdjust="spacingAndGlyphs" fill="#fff" stroke="#fff" stroke-width="0.12">6.52109</text>
<text x="1172" y="220" font-family="Liberation Sans, Arial, sans-serif" font-size="9.8" textLength="32.5" lengthAdjust="spacingAndGlyphs" fill="#fff" stroke="#fff" stroke-width="0.12">6.47015</text>
<text x="1172" y="289" font-family="Liberation Sans, Arial, sans-serif" font-size="9.8" textLength="32.5" lengthAdjust="spacingAndGlyphs" fill="#fff" stroke="#fff" stroke-width="0.12">6.42401</text>
<text x="1172" y="369" font-family="Liberation Sans, Arial, sans-serif" font-size="9.8" textLength="32.5" lengthAdjust="spacingAndGlyphs" fill="#fff" stroke="#fff" stroke-width="0.12">6.37007</text>
<text x="1172" y="342" font-family="Liberation Sans, Arial, sans-serif" font-size="9.8" textLength="32.5" lengthAdjust="spacingAndGlyphs" fill="#fff" stroke="#fff" stroke-width="0.12">6.38915</text>
<text x="3" y="560" font-family="Liberation Sans, Arial, sans-serif" font-size="9.8" fill="#000" stroke="#000" stroke-width="0.12" textLength="51.5" lengthAdjust="spacingAndGlyphs">24 Dec 2020</text>
<text x="67" y="560" font-family="Liberation Sans, Arial, sans-serif" font-size="9.8" fill="#000" stroke="#000" stroke-width="0.12" textLength="48.25" lengthAdjust="spacingAndGlyphs">19 Jan 2021</text>
<text x="131" y="560" font-family="Liberation Sans, Arial, sans-serif" font-size="9.8" fill="#000" stroke="#000" stroke-width="0.12" textLength="50.5" lengthAdjust="spacingAndGlyphs">10 Feb 2021</text>
<text x="195" y="560" font-family="Liberation Sans, Arial, sans-serif" font-size="9.8" fill="#000" stroke="#000" stroke-width="0.12" textLength="45" lengthAdjust="spacingAndGlyphs">4 Mar 2021</text>
<text x="259" y="560" font-family="Liberation Sans, Arial, sans-serif" font-size="9.8" fill="#000" stroke="#000" stroke-width="0.12" textLength="51" lengthAdjust="spacingAndGlyphs">26 Mar 2021</text>
<text x="323" y="560" font-family="Liberation Sans, Arial, sans-serif" font-size="9.8" fill="#000" stroke="#000" stroke-width="0.12" textLength="49.25" lengthAdjust="spacingAndGlyphs">20 Apr 2021</text>
<text x="387" y="560" font-family="Liberation Sans, Arial, sans-serif" font-size="9.8" fill="#000" stroke="#000" stroke-width="0.12" textLength="52.5" lengthAdjust="spacingAndGlyphs">12 May 2021</text>
<text x="451" y="560" font-family="Liberation Sans, Arial, sans-serif" font-size="9.8" fill="#000" stroke="#000" stroke-width="0.12" textLength="43" lengthAdjust="spacingAndGlyphs">3 Jun 2021</text>
<text x="515" y="560" font-family="Liberation Sans, Arial, sans-serif" font-size="9.8" fill="#000" stroke="#000" stroke-width="0.12" textLength="48.25" lengthAdjust="spacingAndGlyphs">25 Jun 2021</text>
<text x="579" y="560" font-family="Liberation Sans, Arial, sans-serif" font-size="9.8" fill="#000" stroke="#000" stroke-width="0.12" textLength="45.25" lengthAdjust="spacingAndGlyphs">19 Jul 2021</text>
<text x="643" y="560" font-family="Liberation Sans, Arial, sans-serif" font-size="9.8" fill="#000" stroke="#000" stroke-width="0.12" textLength="51.25" lengthAdjust="spacingAndGlyphs">10 Aug 2021</text>
<text x="707" y="560" font-family="Liberation Sans, Arial, sans-serif" font-size="9.8" fill="#000" stroke="#000" stroke-width="0.12" textLength="45.5" lengthAdjust="spacingAndGlyphs">1 Sep 2021</text>
<text x="771" y="560" font-family="Liberation Sans, Arial, sans-serif" font-size="9.8" fill="#000" stroke="#000" stroke-width="0.12" textLength="50" lengthAdjust="spacingAndGlyphs">23 Sep 2021</text>
<text x="835" y="560" font-family="Liberation Sans, Arial, sans-serif" font-size="9.8" fill="#000" stroke="#000" stroke-width="0.12" textLength="48.5" lengthAdjust="spacingAndGlyphs">15 Oct 2021</text>
<text x="899" y="560" font-family="Liberation Sans, Arial, sans-serif" font-size="9.8" fill="#000" stroke="#000" stroke-width="0.12" textLength="48.25" lengthAdjust="spacingAndGlyphs">8 Nov 2021</text>
<g shape-rendering="crispEdges" fill="#000"><rect x="10" y="32" width="1" height="1"/><rect x="9" y="33" width="3" height="1"/><rect x="8" y="34" width="5" height="1"/><rect x="7" y="35" width="7" height="1"/></g>
<text x="19.5" y="37" font-family="Liberation Sans, Arial, sans-serif" font-size="9.8" fill="#000" stroke="#000" stroke-width="0.12" textLength="68.5" lengthAdjust="spacingAndGlyphs">USDCNH-,Daily</text>
<text x="94" y="37" font-family="Liberation Sans, Arial, sans-serif" font-size="9.8" fill="#000" stroke="#000" stroke-width="0.12" textLength="32.5" lengthAdjust="spacingAndGlyphs">6.38107</text>
<text x="130" y="37" font-family="Liberation Sans, Arial, sans-serif" font-size="9.8" fill="#000" stroke="#000" stroke-width="0.12" textLength="32.5" lengthAdjust="spacingAndGlyphs">6.39655</text>
<text x="166" y="37" font-family="Liberation Sans, Arial, sans-serif" font-size="9.8" fill="#000" stroke="#000" stroke-width="0.12" textLength="32.5" lengthAdjust="spacingAndGlyphs">6.36056</text>
<text x="202" y="37" font-family="Liberation Sans, Arial, sans-serif" font-size="9.8" fill="#000" stroke="#000" stroke-width="0.12" textLength="32.5" lengthAdjust="spacingAndGlyphs">6.38915</text>
<text x="8.3" y="418" font-family="Liberation Sans, Arial, sans-serif" font-size="9.8" fill="#000" stroke="#000" stroke-width="0.12" textLength="153.5" lengthAdjust="spacingAndGlyphs">MACD(12,26,9) -0.010878 -0.012354</text>
<text x="8.3" y="489" font-family="Liberation Sans, Arial, sans-serif" font-size="9.8" fill="#000" stroke="#000" stroke-width="0.12" textLength="67" lengthAdjust="spacingAndGlyphs">RSI(14) 44.1408</text>
<g shape-rendering="crispEdges">
<rect x="7.5" y="45.5" width="51" height="24" fill="url(#gbtn)" stroke="#cf2a2a" stroke-width="1"/>
<rect x="174.5" y="45.5" width="51" height="24" fill="url(#gbtn)" stroke="#cf2a2a" stroke-width="1"/>
<rect x="7" y="69" width="109" height="33" fill="url(#gpan)"/>
<rect x="118" y="69" width="108" height="33" fill="url(#gpan)"/>
<rect x="11" y="68" width="44" height="1" fill="#8c0000"/>
<rect x="178" y="68" width="44" height="1" fill="#8c0000"/>
<rect x="61.5" y="45.5" width="110" height="21" fill="#fff" stroke="#b4b4bc" stroke-width="1"/>
<rect x="63" y="47" width="19" height="18" fill="url(#gspin)"/>
<rect x="152" y="47" width="18" height="18" fill="url(#gspin)"/>
<rect x="82" y="46" width="1" height="20" fill="#b4b4bc"/>
<rect x="150" y="46" width="1" height="20" fill="#b4b4bc"/>
</g>
<polygon points="69,54 75,54 72,57.5" fill="#4a5fb0"/>
<polygon points="158,57.5 164,57.5 161,54" fill="#4a5fb0"/>
<text x="147" y="61" text-anchor="end" font-family="Liberation Sans, Arial, sans-serif" font-size="12" fill="#000">3.00</text>
<text x="19.3" y="60.7" font-family="Liberation Sans, Arial, sans-serif" font-size="12.8" fill="#ffe8e8" textLength="25.5" lengthAdjust="spacingAndGlyphs">SELL</text>
<text x="187.5" y="60.7" font-family="Liberation Sans, Arial, sans-serif" font-size="12.8" fill="#ffe8e8" textLength="22.5" lengthAdjust="spacingAndGlyphs">BUY</text>
<text x="27" y="96.5" font-family="Liberation Sans, Arial, sans-serif" font-size="11.5" font-weight="bold" fill="#fff" textLength="23.5" lengthAdjust="spacingAndGlyphs">6.38</text>
<text x="137" y="96.5" font-family="Liberation Sans, Arial, sans-serif" font-size="11.5" font-weight="bold" fill="#fff" textLength="23.5" lengthAdjust="spacingAndGlyphs">6.39</text>
<text x="54" y="96.2" font-family="Liberation Sans, Arial, sans-serif" font-size="33.5" fill="#fff" stroke="url(#gpanu)" stroke-width="0.7" letter-spacing="-1.5">91</text>
<text x="164.5" y="96.2" font-family="Liberation Sans, Arial, sans-serif" font-size="33.5" fill="#fff" stroke="url(#gpanu)" stroke-width="0.7" letter-spacing="-1.5">28</text>
<text x="94.6" y="81" font-family="Liberation Sans, Arial, sans-serif" font-size="11" font-weight="bold" fill="#fff">5</text>
<text x="205.5" y="81" font-family="Liberation Sans, Arial, sans-serif" font-size="11" font-weight="bold" fill="#fff">3</text>
<g shape-rendering="crispEdges">
<rect x="0" y="568" width="1208" height="1" fill="#e3e3e3"/>
<rect x="0" y="570" width="1208" height="19" fill="#f0f0f0"/>
<rect x="0" y="570" width="1208" height="1" fill="#000"/>
<rect x="0" y="571" width="1" height="18" fill="#696969"/>
<rect x="526" y="570" width="110" height="18" fill="#fff"/>
<rect x="525" y="570" width="1" height="19" fill="#000"/>
<rect x="636" y="570" width="1" height="19" fill="#000"/>
<rect x="525" y="588" width="112" height="1" fill="#000"/>
<rect x="0" y="589" width="1208" height="5" fill="#f6f6f6"/>
<rect x="0" y="594" width="1208" height="1" fill="#a8a8a8"/>
<rect x="2" y="595" width="1" height="3" fill="#e6e6e6"/>
<rect x="110" y="595" width="1" height="3" fill="#e6e6e6"/>
<rect x="194" y="595" width="1" height="3" fill="#e6e6e6"/>
<rect x="302" y="595" width="1" height="3" fill="#e6e6e6"/>
<rect x="422" y="595" width="1" height="3" fill="#e6e6e6"/>
<rect x="542" y="595" width="1" height="3" fill="#e6e6e6"/>
<rect x="662" y="595" width="1" height="3" fill="#e6e6e6"/>
<rect x="782" y="595" width="1" height="3" fill="#e6e6e6"/>
<rect x="902" y="595" width="1" height="3" fill="#e6e6e6"/>
<rect x="1022" y="595" width="1" height="3" fill="#e6e6e6"/>
<rect x="1142" y="595" width="1" height="3" fill="#e6e6e6"/>
<rect x="105" y="573" width="1" height="14" fill="#808080"/>
<rect x="213" y="573" width="1" height="14" fill="#808080"/>
<rect x="321" y="573" width="1" height="14" fill="#808080"/>
<rect x="417" y="573" width="1" height="14" fill="#808080"/>
<rect x="745" y="573" width="1" height="14" fill="#808080"/>
<rect x="825" y="573" width="1" height="14" fill="#808080"/>
</g>
<text x="16.25" y="585" font-family="Liberation Sans, Arial, sans-serif" font-size="13" fill="#787878" textLength="77.5" lengthAdjust="spacingAndGlyphs">USDX,Weekly</text>
<text x="116.25" y="585" font-family="Liberation Sans, Arial, sans-serif" font-size="13" fill="#787878" textLength="84.5" lengthAdjust="spacingAndGlyphs">EURUSD-,Daily</text>
<text x="223.25" y="585" font-family="Liberation Sans, Arial, sans-serif" font-size="13" fill="#787878" textLength="87.5" lengthAdjust="spacingAndGlyphs">AUDUSD-,Daily</text>
<text x="333.25" y="585" font-family="Liberation Sans, Arial, sans-serif" font-size="13" fill="#787878" textLength="71.25" lengthAdjust="spacingAndGlyphs">USDCHF-,H4</text>
<text x="428.25" y="585" font-family="Liberation Sans, Arial, sans-serif" font-size="13" fill="#787878" textLength="85.75" lengthAdjust="spacingAndGlyphs">USDCAD-,Daily</text>
<text x="649" y="585" font-family="Liberation Sans, Arial, sans-serif" font-size="13" fill="#787878" textLength="83.75" lengthAdjust="spacingAndGlyphs">XAUUSD-,M30</text>
<text x="756" y="585" font-family="Liberation Sans, Arial, sans-serif" font-size="13" fill="#787878" textLength="56.75" lengthAdjust="spacingAndGlyphs">UKOil-,H4</text>
<text x="537.75" y="585" font-family="Liberation Sans, Arial, sans-serif" font-size="13" fill="#000" textLength="86.75" lengthAdjust="spacingAndGlyphs">USDCNH-,Daily</text>
<polygon points="1184.5,576 1184.5,583 1181,579.5" fill="#9a9a9a"/>
<polygon points="1200.5,576 1200.5,583 1204,579.5" fill="#9a9a9a"/>
</svg>
</body></html>
